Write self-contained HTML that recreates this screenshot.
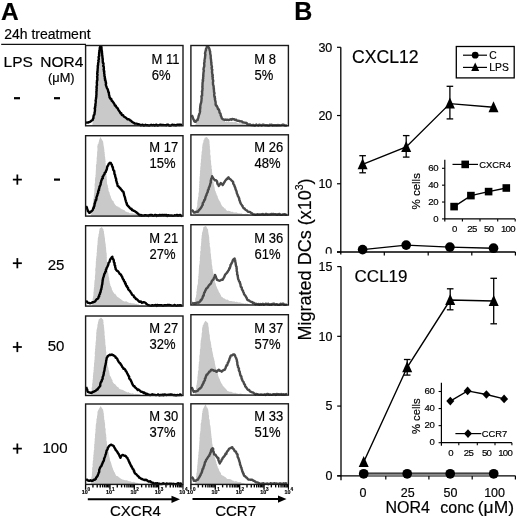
<!DOCTYPE html>
<html><head><meta charset="utf-8"><style>
html,body{margin:0;padding:0;background:#fff;}
svg{display:block;filter:grayscale(1) blur(0.3px);}
text{font-family:"Liberation Sans", sans-serif;stroke:#000;stroke-width:0.18px;}
</style></head><body>
<svg width="520" height="518" viewBox="0 0 520 518">
<rect width="520" height="518" fill="#fff"/>
<text x="1.0" y="19.9" font-size="24.5" text-anchor="start" font-weight="bold" fill="#000" >A</text>
<text x="4.2" y="38.7" font-size="14" text-anchor="start" font-weight="normal" fill="#000" >24h treatment</text>
<line x1="1.2" y1="44.35" x2="86" y2="44.35" stroke="#111" stroke-width="1.2"/>
<text x="3.6" y="66.8" font-size="15.5" text-anchor="start" font-weight="normal" fill="#000" >LPS</text>
<text x="40.2" y="66.8" font-size="15.5" text-anchor="start" font-weight="normal" fill="#000" >NOR4</text>
<text x="48.0" y="82.0" font-size="12.8" text-anchor="start" font-weight="normal" fill="#000" >(&#956;M)</text>
<rect x="14.0" y="97.10000000000001" width="6" height="2.2" fill="#000"/>
<rect x="54.0" y="97.10000000000001" width="6" height="2.2" fill="#000"/>
<rect x="12.850000000000001" y="178.725" width="9.0" height="1.75" fill="#000"/>
<rect x="16.475" y="174.5" width="1.75" height="10.2" fill="#000"/>
<rect x="54.0" y="178.5" width="6" height="2.2" fill="#000"/>
<rect x="12.850000000000001" y="262.325" width="9.0" height="1.75" fill="#000"/>
<rect x="16.475" y="258.09999999999997" width="1.75" height="10.2" fill="#000"/>
<text x="56" y="270" font-size="15" text-anchor="middle" font-weight="normal" fill="#000" >25</text>
<rect x="12.850000000000001" y="346.125" width="9.0" height="1.75" fill="#000"/>
<rect x="16.475" y="341.9" width="1.75" height="10.2" fill="#000"/>
<text x="56" y="351.3" font-size="15" text-anchor="middle" font-weight="normal" fill="#000" >50</text>
<rect x="12.850000000000001" y="447.725" width="9.0" height="1.75" fill="#000"/>
<rect x="16.475" y="443.5" width="1.75" height="10.2" fill="#000"/>
<text x="55" y="453.3" font-size="15" text-anchor="middle" font-weight="normal" fill="#000" >100</text>
<svg x="85.6" y="45.5" width="97.4" height="80.3" viewBox="85.6 45.5 97.4 80.3" overflow="hidden">
<polygon points="92.2,125.8 92.2,125.0 92.5,124.3 92.5,123.0 92.7,122.2 93.0,121.2 93.0,120.6 93.3,119.6 93.2,118.9 93.5,117.6 93.8,117.3 93.8,116.0 94.0,115.4 93.9,114.4 94.2,113.4 94.1,112.0 94.2,111.5 94.5,110.9 94.4,109.9 94.4,109.0 94.6,107.3 94.7,106.8 94.9,106.1 94.6,105.0 95.0,103.9 94.9,103.6 94.9,102.4 95.0,101.8 95.3,100.4 95.1,99.4 95.4,99.0 95.3,97.8 95.6,96.9 95.8,95.9 95.7,95.0 96.0,94.2 95.8,93.1 95.9,92.1 95.9,91.1 95.8,90.1 96.0,89.6 96.0,88.1 96.2,87.9 96.3,87.0 96.4,86.1 96.2,84.7 96.4,83.7 96.5,83.3 96.6,82.1 96.6,81.2 96.4,80.3 96.7,79.6 96.7,78.0 96.7,77.4 96.7,76.8 96.6,75.8 96.6,74.4 96.9,73.6 97.0,72.4 96.7,72.0 96.7,71.0 97.0,70.0 97.3,69.1 97.3,67.7 97.3,67.3 97.4,66.1 97.4,65.7 97.4,63.9 97.9,63.1 97.6,62.2 98.0,61.9 97.7,60.5 97.9,59.4 98.0,58.8 98.2,57.5 98.3,56.4 98.2,56.3 98.4,54.8 98.6,54.0 99.0,53.3 99.4,51.7 99.5,51.4 99.5,50.2 100.2,48.9 100.3,48.0 101.1,48.1 102.2,48.0 102.3,48.6 102.4,49.7 102.5,50.7 102.5,51.5 102.9,52.3 102.8,53.0 103.0,54.2 102.8,55.0 103.0,56.5 103.2,57.0 103.2,57.7 103.3,59.2 103.5,59.8 103.7,60.5 103.6,61.6 103.5,62.1 103.8,63.1 104.0,64.1 104.2,65.2 104.1,65.9 104.3,66.8 104.4,67.4 104.4,68.5 104.4,69.6 104.6,70.6 104.8,71.7 104.8,72.1 104.9,73.5 105.2,74.4 105.1,75.0 105.1,76.4 105.4,76.5 105.6,78.2 105.6,78.9 105.7,79.4 106.0,80.1 106.2,81.5 106.0,82.1 106.4,83.7 106.4,84.7 106.4,85.5 106.7,85.8 106.8,87.0 107.0,88.0 107.5,89.3 107.6,90.0 108.2,90.9 108.7,91.8 108.9,93.0 108.9,93.5 109.5,94.8 109.9,96.0 110.1,96.1 110.3,97.6 110.5,98.4 110.8,99.3 110.9,100.0 111.4,100.8 111.9,101.7 112.4,102.1 113.1,103.5 113.7,104.0 114.4,104.7 114.9,105.3 115.2,107.0 115.8,107.3 116.5,108.1 117.0,108.9 117.6,110.0 118.0,110.5 118.9,111.3 119.5,112.3 120.1,113.0 121.0,114.1 121.4,115.0 122.2,116.1 122.6,116.3 123.4,116.9 123.9,117.9 124.8,118.7 125.3,119.0 126.2,119.3 127.2,120.0 127.6,119.9 128.7,120.3 129.2,121.0 130.3,121.5 131.1,122.0 131.9,122.4 132.8,122.6 133.5,123.5 134.3,123.7 135.2,123.7 135.9,124.5 136.9,124.5 138.0,125.0 138.9,124.9 139.7,124.8 140.9,125.0 140.9,125.8" fill="#c9c9c9"/>
<polyline points="85.9,122.8 86.7,122.5 88.0,122.6 89.0,122.1 89.8,121.9 90.9,121.3 91.5,120.6 92.7,120.0 92.7,119.5 93.5,117.9 93.4,117.4 93.6,115.8 93.9,115.0 94.4,114.7 94.6,113.2 94.5,112.8 94.8,111.8 95.0,110.1 95.0,109.1 94.7,108.5 95.2,107.7 95.0,107.1 95.5,105.5 95.3,105.1 95.6,103.6 95.5,103.6 95.7,102.4 95.8,101.2 95.6,100.4 95.9,99.2 96.1,98.3 96.0,97.8 96.3,97.0 96.3,95.4 96.4,95.2 96.5,94.1 96.4,92.9 96.5,92.0 96.6,90.7 96.7,90.5 96.5,89.5 96.8,87.9 96.5,87.5 96.6,86.2 96.9,85.7 97.0,84.7 96.8,83.1 96.8,82.4 97.0,82.1 96.9,80.8 97.4,79.9 97.3,79.2 97.3,78.1 97.3,77.4 97.1,76.6 97.6,74.8 97.2,74.1 97.2,73.1 97.6,72.1 97.3,72.1 97.6,70.7 97.6,69.6 97.7,68.5 97.8,67.7 97.8,67.0 97.7,65.8 97.9,65.7 98.1,64.8 98.1,63.1 98.4,62.2 98.6,61.5 98.3,60.4 98.4,60.3 98.9,59.0 98.6,57.5 98.6,56.9 99.0,56.3 99.2,55.7 99.0,54.6 99.2,53.8 99.1,53.1 99.4,51.7 99.3,50.8 99.7,50.0 99.7,49.0 99.8,47.8 100.3,46.5 101.3,46.5 101.5,47.4 101.3,48.2 101.6,48.9 101.5,50.5 101.8,50.7 102.0,52.0 101.8,52.9 102.1,53.3 102.1,55.0 102.3,55.5 102.4,56.1 102.4,57.3 102.7,58.6 102.5,58.6 102.8,59.5 102.7,60.5 102.8,62.0 102.9,62.9 103.5,63.3 103.4,64.7 103.2,66.0 103.6,66.3 103.8,66.9 103.9,68.6 103.6,69.6 104.1,70.5 103.9,71.2 104.3,71.7 104.2,72.8 104.1,73.2 104.5,74.6 104.4,75.6 104.5,76.3 104.9,76.9 104.8,78.6 105.3,79.1 105.0,80.0 105.7,81.1 105.7,81.2 105.7,82.3 106.1,83.0 105.8,84.8 106.1,85.3 106.3,86.1 106.8,87.7 107.3,88.7 107.5,88.8 108.0,90.2 108.2,91.4 108.6,92.6 108.9,92.6 108.9,93.7 109.1,95.1 109.5,96.2 109.5,97.3 110.0,97.8 110.4,98.8 111.3,98.9 111.7,100.7 112.0,100.9 112.8,101.7 113.3,102.4 113.7,103.0 114.3,103.9 114.9,105.5 115.8,105.6 115.9,106.4 116.7,107.5 117.4,108.0 117.9,108.7 118.2,109.6 118.9,110.6 119.6,111.6 119.9,111.9 120.5,113.2 121.3,113.3 121.8,115.0 122.6,114.9 123.3,115.5 123.8,116.4 124.4,117.0 125.4,117.3 126.0,117.8 127.1,118.8 127.6,119.3 128.6,119.2 129.4,119.6 130.2,120.5 131.0,120.6 131.9,121.8 133.2,122.6 134.0,122.8 134.8,123.6 135.8,123.6 136.9,123.6 138.0,124.4 138.9,124.2 140.0,124.8 140.7,125.3 141.7,125.1 142.6,124.6 143.8,125.6 144.5,125.4 145.5,124.7 146.5,125.2 147.5,125.1 148.0,125.4 149.1,125.5 149.7,125.3 151.1,124.8 151.6,125.1 152.8,125.2 153.7,124.9 154.7,125.6 155.5,125.0 156.7,124.7 157.4,125.5 158.4,125.4 159.3,125.0 160.3,124.6 161.0,125.1 161.9,125.0 162.9,124.9 163.6,125.0 164.7,125.1 165.8,125.1 166.3,125.3 167.3,124.6 168.2,124.7 169.3,125.5 170.3,125.6 170.8,125.5 172.1,124.8 172.9,124.7 173.7,125.1 174.6,125.0 175.7,125.3 176.3,125.2 177.6,124.6 178.5,124.6 179.2,125.0 179.9,124.6 181.2,124.8 182.0,125.1" fill="none" stroke="#000" stroke-width="2.4" stroke-linejoin="round"/>
</svg>
<rect x="85.6" y="45.5" width="97.4" height="80.3" fill="none" stroke="#1a1a1a" stroke-width="1.4"/>
<text transform="translate(151.60,63.8) scale(1,1.08)" font-size="13" fill="#000">M 11</text>
<text transform="translate(151.70,79.6) scale(1,1.08)" font-size="13" fill="#000">6%</text>
<svg x="85.6" y="135.7" width="97.4" height="80.4" viewBox="85.6 135.7 97.4 80.4" overflow="hidden">
<polygon points="90.9,216.1 90.9,215.5 91.1,214.5 91.2,213.4 91.5,213.1 91.5,211.6 91.6,210.8 91.7,210.5 92.1,208.8 92.2,208.4 92.2,207.2 92.4,206.5 92.6,205.7 92.5,204.9 93.0,204.2 93.0,202.5 92.9,201.7 93.4,200.9 93.3,200.6 93.4,199.3 93.6,198.0 93.8,197.5 93.9,196.9 93.8,195.4 94.0,194.3 94.1,194.1 94.2,192.9 94.4,191.6 94.3,190.9 94.4,189.7 94.6,188.8 94.4,188.5 94.8,187.3 94.6,186.2 94.6,185.6 94.6,184.2 94.8,183.3 95.0,183.0 95.1,181.7 95.0,180.8 94.9,180.1 95.1,178.8 95.1,178.0 95.4,177.0 95.6,176.4 95.4,175.3 95.7,174.4 95.7,173.0 95.7,172.5 95.8,171.6 95.8,170.6 95.9,169.8 95.9,168.6 96.0,168.4 96.0,166.7 95.9,166.2 96.0,164.9 96.1,164.4 96.6,163.5 96.4,162.5 96.5,161.7 96.6,161.2 96.7,159.8 96.7,159.4 96.6,157.9 96.8,157.4 96.9,156.4 97.1,155.4 97.1,154.9 97.0,153.9 97.2,153.0 97.0,152.2 97.3,151.3 97.5,149.8 97.4,148.8 97.5,148.6 97.3,147.2 97.3,146.1 97.6,145.5 97.7,144.3 98.4,144.1 98.4,143.1 98.8,142.1 98.9,141.3 99.2,140.1 99.4,139.6 99.8,138.4 100.1,138.1 100.3,136.9 101.0,137.8 101.1,138.4 101.6,138.9 102.1,140.1 102.8,141.0 103.2,141.7 103.2,142.8 103.4,143.5 103.4,144.3 103.6,145.5 103.8,146.2 103.9,147.1 104.1,148.2 104.2,148.8 104.3,150.2 104.5,150.9 104.2,151.9 104.7,152.1 104.6,153.2 104.9,154.4 104.8,154.9 104.8,155.7 105.1,157.0 105.3,158.3 105.1,159.1 105.5,159.5 105.4,160.6 105.7,162.0 105.3,162.3 105.7,163.5 105.7,164.7 105.9,165.7 105.7,165.9 106.0,166.8 106.0,168.4 106.0,169.1 105.9,169.7 106.2,171.2 106.5,171.4 106.5,172.8 106.3,173.6 106.5,174.5 106.3,175.8 106.7,176.5 106.7,177.8 106.6,178.6 106.9,179.1 106.9,180.1 106.8,181.0 107.0,182.0 107.0,183.4 107.2,184.1 107.6,185.3 107.9,185.8 107.9,186.4 107.9,187.6 108.5,188.4 108.4,189.9 108.6,190.4 108.9,191.7 109.4,192.1 109.6,193.3 109.8,194.0 110.0,195.0 110.6,195.9 111.0,197.2 111.0,198.0 111.5,198.5 111.8,199.4 112.4,200.6 112.9,200.7 113.7,201.5 113.9,202.9 114.5,203.4 115.2,204.7 115.7,205.2 116.4,206.1 117.4,206.4 118.2,206.4 118.8,207.5 119.9,207.6 120.6,208.4 121.4,209.0 122.3,209.3 123.0,209.7 124.2,210.0 125.0,210.7 125.5,211.4 126.3,211.8 127.3,212.3 128.3,212.3 129.1,212.8 130.1,213.4 130.9,212.9 131.9,213.6 132.8,213.2 134.0,213.7 134.8,213.8 135.6,213.5 136.6,213.7 137.9,214.7 138.7,214.4 139.4,214.4 140.3,214.6 141.5,214.9 142.5,215.0 143.0,215.0 144.1,215.1 144.8,215.5 145.9,215.5 145.9,216.1" fill="#c9c9c9"/>
<polyline points="86.0,206.1 86.6,206.9 86.9,207.7 87.1,208.7 87.5,209.5 87.8,210.9 88.4,211.3 88.9,212.5 89.8,212.8 90.8,211.7 91.3,211.4 91.9,210.8 92.7,210.0 93.1,208.9 93.2,208.3 93.8,207.9 94.0,206.5 94.3,206.2 94.6,204.4 94.6,203.6 94.9,203.4 95.2,202.0 95.5,201.3 95.6,200.0 96.2,200.0 96.5,198.1 96.4,197.3 96.8,196.5 97.1,195.8 97.4,195.0 97.6,193.6 98.1,193.1 98.3,192.1 98.1,191.9 98.6,190.1 99.1,190.1 98.9,189.2 99.4,187.8 99.5,186.5 99.8,186.4 100.3,185.2 100.7,184.0 100.6,182.9 101.0,182.6 101.2,181.1 101.6,180.2 101.8,179.4 102.1,178.8 102.8,178.3 102.6,176.7 103.2,176.3 103.5,175.4 104.0,174.7 104.6,174.0 104.7,172.7 105.5,172.2 105.9,171.8 106.1,170.5 106.7,169.7 107.0,168.3 107.1,167.5 107.4,166.3 108.0,165.7 108.5,164.4 109.1,163.4 110.0,162.8 110.8,163.0 111.4,164.4 111.9,164.8 112.0,165.7 112.6,167.2 112.9,167.2 112.9,168.2 113.3,169.9 113.8,170.5 114.2,171.0 114.4,172.9 114.4,173.4 114.6,174.3 115.1,175.0 115.2,176.4 115.7,177.7 115.7,178.2 116.2,179.1 116.1,180.6 116.6,181.4 116.8,182.6 116.7,182.7 117.3,183.7 117.5,185.0 117.7,185.9 118.7,186.6 119.6,187.8 120.5,188.5 120.6,188.9 121.5,189.8 122.5,191.2 123.4,191.7 123.7,193.2 123.8,193.1 124.1,195.0 124.4,195.9 124.8,197.0 124.8,197.0 125.1,198.0 125.3,199.4 125.6,200.1 125.9,201.3 126.4,202.8 126.8,203.6 126.8,204.3 127.3,205.2 128.2,206.1 129.2,207.1 129.7,207.8 130.9,209.0 131.5,208.8 132.0,210.0 133.2,210.4 133.9,210.9 134.8,211.2 135.9,211.9 136.9,212.7 137.4,213.3 138.0,213.6 138.8,214.5 139.8,215.4 141.0,214.9 141.6,215.8 142.5,215.4 143.9,215.7 144.6,215.2 145.5,215.2 146.8,215.5 147.5,215.4 148.4,215.9 149.2,215.1 150.2,215.0 151.3,214.9 151.9,214.9 152.7,215.8 153.6,215.7 154.8,214.9 155.9,214.9 156.7,215.9 157.3,215.3 158.2,215.6 159.3,215.0 159.9,215.0 161.0,215.4 161.7,215.0 162.8,215.0 163.8,215.2 164.9,214.9 165.6,215.3 166.6,214.9 167.2,215.9 168.3,215.2 169.0,215.5 170.4,215.5 171.3,215.6 171.7,215.5 172.9,215.9 173.9,215.6 174.5,215.3 175.8,215.4 176.6,214.9 177.5,214.9 178.1,215.7 179.2,215.1 180.2,214.9 181.2,215.9 182.0,215.4" fill="none" stroke="#000" stroke-width="2.4" stroke-linejoin="round"/>
</svg>
<rect x="85.6" y="135.7" width="97.4" height="80.4" fill="none" stroke="#1a1a1a" stroke-width="1.4"/>
<text transform="translate(149.25,151.8) scale(1,1.08)" font-size="13" fill="#000">M 17</text>
<text transform="translate(149.45,167.6) scale(1,1.08)" font-size="13" fill="#000">15%</text>
<svg x="85.6" y="225.7" width="97.4" height="80.40000000000003" viewBox="85.6 225.7 97.4 80.40000000000003" overflow="hidden">
<polygon points="91.9,306.1 91.9,305.5 92.2,304.7 92.3,304.0 92.2,302.8 92.6,302.0 92.6,300.5 92.6,300.3 92.6,298.7 93.1,297.9 92.9,296.8 93.4,295.9 93.3,295.2 93.6,294.1 93.4,293.3 93.5,291.9 93.8,291.3 93.7,290.5 93.8,289.6 93.9,288.2 93.9,287.8 94.3,286.4 94.1,285.3 94.4,284.6 94.2,284.0 94.5,282.9 94.3,282.2 94.6,281.1 94.5,280.6 94.9,279.4 95.0,278.4 94.8,277.1 95.0,276.5 95.0,276.0 95.2,274.3 95.3,273.3 95.3,272.6 95.4,272.3 95.4,271.2 95.2,270.2 95.3,269.0 95.5,267.8 95.7,266.9 95.7,266.3 95.7,265.0 95.9,264.3 95.7,263.1 95.9,262.6 95.8,261.2 96.2,260.8 96.0,259.6 96.1,258.7 96.3,257.7 96.3,256.8 96.4,256.2 96.7,255.3 96.6,253.8 96.5,253.5 96.7,252.7 97.0,251.3 96.8,250.4 97.0,249.3 96.9,249.0 97.1,248.2 97.1,247.2 97.2,245.6 97.4,244.7 97.6,244.3 97.5,243.5 97.6,242.6 97.6,241.3 97.8,240.1 97.8,239.8 97.8,239.1 97.9,238.0 98.3,236.8 98.5,236.0 98.5,234.9 98.5,234.3 99.0,233.2 99.1,232.3 99.0,231.7 99.4,230.2 99.5,229.5 99.5,228.8 100.4,228.0 101.3,227.4 101.9,226.9 102.2,227.5 102.6,228.5 103.4,229.3 103.5,230.5 104.1,231.7 104.0,232.9 104.1,233.7 104.3,234.1 104.4,235.4 104.5,236.2 104.7,237.2 104.9,237.9 105.0,239.2 105.0,240.1 105.0,240.8 105.2,241.4 105.4,242.9 105.5,243.4 105.8,244.9 105.7,245.4 105.8,246.5 106.0,247.2 106.1,248.3 106.1,249.0 106.2,249.9 106.2,250.6 106.3,251.6 106.4,252.4 106.7,253.3 106.7,254.6 106.8,255.8 106.6,256.2 107.0,257.4 106.7,258.0 106.8,258.9 106.8,259.6 106.9,260.9 107.3,261.9 107.3,262.9 107.2,263.9 107.4,264.6 107.7,265.5 107.6,266.7 107.6,267.1 107.6,268.1 107.6,269.2 107.7,270.4 108.0,271.2 108.0,272.0 108.0,272.6 108.5,274.1 108.5,275.0 108.5,275.4 108.7,276.4 108.8,277.1 109.2,278.0 109.2,279.4 109.2,279.9 109.4,280.7 109.8,282.2 109.6,282.3 109.9,283.6 110.3,284.5 110.3,285.6 111.0,286.2 111.0,286.7 111.7,288.0 111.8,289.1 112.0,289.8 112.6,290.7 112.8,291.3 113.2,292.2 114.0,292.8 114.4,293.9 115.4,293.8 115.8,294.9 116.4,295.4 116.9,296.5 117.6,297.0 118.4,297.5 119.3,297.9 120.3,298.9 120.8,299.1 121.8,299.9 122.8,300.7 123.4,300.9 124.1,301.5 125.0,301.4 126.2,301.3 126.8,301.4 127.8,302.3 128.5,302.5 129.5,302.9 130.5,302.7 131.3,303.2 132.2,303.3 133.2,303.6 133.9,303.2 134.9,303.8 135.7,304.1 136.6,303.7 137.6,304.4 138.4,304.2 139.3,304.9 140.6,305.1 141.4,304.7 142.1,304.8 143.3,305.1 143.9,305.6 145.1,304.9 145.9,305.5 145.9,306.1" fill="#c9c9c9"/>
<polyline points="86.0,301.0 86.9,301.6 87.8,302.8 89.0,302.9 89.8,303.3 90.5,303.1 91.7,302.8 92.5,302.1 93.5,302.2 94.8,301.7 95.5,301.0 96.1,299.8 96.8,299.2 97.7,298.8 98.4,298.0 98.5,296.8 99.2,296.5 99.0,295.8 99.5,294.4 100.0,293.9 100.1,292.7 100.5,292.3 100.8,290.7 100.8,290.1 101.3,289.4 101.3,288.8 101.7,287.2 101.7,286.8 101.9,285.6 102.1,284.7 102.4,283.9 102.3,283.5 102.4,282.7 102.6,281.4 102.6,280.3 102.9,279.9 102.9,279.1 103.2,277.8 103.8,276.4 103.9,275.6 104.0,275.4 104.4,273.8 105.0,273.1 105.2,272.0 105.8,271.6 105.9,269.7 106.5,268.8 106.6,267.9 107.1,267.3 107.7,266.0 108.0,265.4 108.3,264.7 108.5,263.1 109.0,262.5 109.6,261.7 109.9,260.2 110.2,259.5 110.9,258.6 111.7,257.4 112.3,256.7 112.4,257.6 112.9,258.9 113.5,259.6 113.8,260.5 113.8,261.7 114.2,262.7 114.6,263.0 114.5,264.4 114.6,265.0 115.2,265.8 115.1,266.9 115.7,268.5 115.7,269.2 116.6,270.3 117.0,270.9 117.8,271.2 118.6,272.0 118.9,272.5 119.7,273.9 120.3,274.1 121.0,274.9 121.5,275.9 122.1,276.5 122.2,277.4 122.8,278.5 123.0,279.3 123.7,279.7 123.9,280.8 124.4,281.7 125.0,282.1 125.1,283.8 125.7,283.6 126.1,285.5 126.5,286.2 127.1,286.3 127.3,287.5 128.1,287.8 128.2,289.2 129.0,290.1 129.6,290.6 130.2,291.3 130.8,292.3 131.5,293.4 131.8,294.2 132.2,294.7 133.0,295.2 133.6,295.5 134.0,297.0 134.5,297.4 135.4,297.9 135.9,299.0 136.7,299.1 137.3,299.7 138.2,300.6 139.2,301.6 139.8,301.9 140.9,301.5 141.7,302.7 142.7,302.5 143.8,302.1 144.8,302.5 145.5,302.8 146.3,303.9 146.8,304.1 147.6,304.7 148.5,305.2 149.4,305.4 150.3,305.6 151.4,305.7 152.3,305.1 153.2,305.6 153.7,305.4 154.8,305.3 155.8,305.0 156.8,305.9 157.3,304.9 158.4,305.3 159.3,305.3 160.1,305.3 161.1,305.2 162.2,305.5 163.2,305.8 164.1,305.2 164.9,305.4 165.5,305.1 166.4,305.3 167.6,304.9 168.5,305.1 169.1,304.9 170.3,305.1 171.1,305.3 172.1,305.6 173.1,305.6 173.8,305.4 174.7,304.9 175.5,305.5 176.5,305.9 177.7,305.2 178.5,305.5 179.2,305.5 179.9,305.2 181.1,305.5 182.0,305.4" fill="none" stroke="#000" stroke-width="2.4" stroke-linejoin="round"/>
</svg>
<rect x="85.6" y="225.7" width="97.4" height="80.40000000000003" fill="none" stroke="#1a1a1a" stroke-width="1.4"/>
<text transform="translate(149.25,242.8) scale(1,1.08)" font-size="13" fill="#000">M 21</text>
<text transform="translate(149.45,258.5) scale(1,1.08)" font-size="13" fill="#000">27%</text>
<svg x="85.6" y="316.0" width="97.4" height="79.5" viewBox="85.6 316.0 97.4 79.5" overflow="hidden">
<polygon points="90.9,395.5 90.9,395.0 91.0,393.9 90.9,393.3 91.1,392.0 91.3,391.5 91.7,390.4 91.8,389.9 91.6,388.2 91.6,388.0 92.0,387.1 92.2,386.0 92.1,384.5 92.0,384.3 92.4,383.3 92.5,382.3 92.6,381.6 92.5,380.3 92.8,379.4 92.8,378.8 93.1,377.3 92.8,376.4 93.0,375.9 93.1,375.0 93.2,373.9 93.2,373.1 93.4,372.3 93.7,371.1 93.4,370.6 93.8,369.2 93.7,368.7 93.7,367.2 94.0,366.6 94.0,365.8 94.0,364.5 94.0,363.4 94.1,362.7 94.4,362.0 94.3,360.8 94.5,359.9 94.6,359.2 94.6,358.0 94.6,357.4 94.7,356.3 95.0,355.4 94.8,354.6 94.7,353.4 94.8,352.6 94.9,351.6 95.2,350.9 95.0,349.8 95.0,349.2 95.3,348.3 95.3,347.3 95.3,346.4 95.5,344.8 95.8,344.5 95.5,343.4 95.7,342.1 95.8,341.9 95.8,340.8 96.1,339.8 96.1,339.0 96.0,337.7 96.1,336.5 96.2,336.1 96.3,334.7 96.2,334.0 96.2,332.8 96.6,331.8 96.4,330.9 96.6,329.9 96.7,329.4 97.0,328.5 97.2,327.7 97.4,326.5 97.4,325.6 97.5,324.4 97.9,323.7 97.9,322.6 98.3,321.5 98.5,320.4 98.6,319.8 99.2,319.0 100.0,318.5 100.9,317.5 101.6,318.1 102.6,319.3 103.2,319.8 103.4,320.4 103.3,321.3 103.6,322.5 103.4,323.8 103.5,324.0 103.9,325.2 104.0,326.3 103.8,327.1 104.1,327.6 104.2,328.8 104.2,329.7 104.4,330.8 104.4,331.3 104.6,332.3 104.6,333.1 104.5,334.5 104.6,335.4 104.9,336.1 104.9,337.1 104.8,338.4 105.1,339.0 105.2,340.3 105.3,341.0 105.2,341.9 105.4,342.5 105.3,343.3 105.4,344.7 105.6,345.1 105.7,346.7 106.0,346.9 105.9,348.3 105.9,349.0 106.0,349.9 106.0,350.7 106.3,352.2 106.5,352.7 106.2,353.5 106.2,354.8 106.3,355.6 106.7,356.7 106.7,357.6 106.7,358.6 106.8,359.0 106.7,360.6 106.7,361.1 107.0,362.0 107.4,363.2 107.5,363.4 107.4,364.7 107.6,365.4 107.9,366.8 108.3,367.7 108.5,368.6 108.4,369.6 108.7,370.3 109.1,370.8 109.3,372.0 109.4,372.7 109.6,373.4 109.6,374.8 109.9,375.5 110.5,376.4 110.8,376.8 111.2,377.8 111.5,378.8 112.0,379.6 112.5,380.3 112.6,381.7 113.3,382.8 113.7,383.2 114.4,383.9 115.0,384.1 115.7,385.1 116.1,385.5 116.7,386.2 117.5,387.1 118.4,387.3 118.7,387.9 119.5,389.0 120.4,389.3 121.0,389.5 122.0,389.7 123.0,390.0 123.7,390.5 124.6,391.0 125.5,391.6 126.4,391.7 127.2,392.5 128.4,392.1 129.1,392.8 130.1,393.1 131.1,393.5 132.0,393.5 132.7,393.3 133.7,393.7 134.5,394.2 135.5,393.8 136.5,394.1 137.3,394.1 138.3,394.1 139.3,394.4 139.9,394.3 140.9,395.0 141.9,395.0 141.9,395.5" fill="#c9c9c9"/>
<polyline points="86.0,387.0 86.4,387.7 86.9,389.3 87.2,389.4 87.3,390.7 87.8,391.9 89.0,392.3 89.8,392.5 90.5,392.8 91.7,392.8 92.7,392.0 93.5,391.8 94.8,391.2 95.5,390.9 95.9,390.6 97.0,389.4 97.6,389.5 98.0,388.5 98.8,387.7 99.4,387.0 99.7,386.5 100.3,385.8 100.2,384.9 100.5,383.2 100.8,382.3 101.3,381.5 101.6,381.5 101.9,379.8 102.3,379.4 102.7,378.5 102.6,377.3 102.9,376.6 103.5,375.2 103.5,374.3 103.8,374.1 103.8,372.3 104.2,371.7 104.3,370.8 104.6,369.9 104.6,368.8 104.8,367.9 105.0,367.2 105.3,365.4 105.6,364.7 105.7,363.5 106.0,362.7 106.1,362.0 106.1,361.0 106.4,360.1 106.6,358.8 106.8,357.8 107.5,356.9 107.5,356.3 108.2,355.9 109.0,355.3 109.8,354.6 110.8,355.1 111.9,354.4 113.1,355.2 113.6,355.3 114.8,356.3 115.5,356.8 115.7,357.7 116.8,358.3 117.3,358.9 117.7,360.2 118.3,361.2 118.6,361.7 119.6,362.9 120.0,362.9 120.5,364.0 120.9,364.6 121.5,365.3 122.1,366.6 122.4,367.1 123.1,367.7 123.4,368.8 124.4,368.8 125.3,369.8 125.5,370.7 126.2,371.4 126.7,372.2 127.3,373.6 127.7,374.2 128.4,375.6 128.5,375.7 129.2,376.7 129.1,378.0 129.6,379.1 130.2,379.4 130.5,379.7 131.1,380.9 131.2,381.4 131.8,382.3 132.0,383.3 132.6,384.3 133.0,385.2 133.8,386.2 134.5,386.3 135.1,387.5 135.6,387.8 136.4,388.4 136.9,389.0 137.7,390.0 138.4,389.5 139.2,390.1 140.2,390.9 140.9,391.7 141.7,391.9 142.7,391.9 143.6,393.1 144.1,392.4 145.0,393.3 145.9,394.0 146.8,393.6 147.5,394.2 148.3,394.5 149.4,394.8 150.2,395.0 151.3,394.7 152.4,394.3 153.2,394.6 154.4,394.8 155.1,394.9 156.0,395.1 157.4,394.9 158.3,394.4 159.3,395.2 160.0,395.3 161.0,394.8 162.0,395.1 163.0,394.5 163.6,395.2 164.6,394.5 165.8,394.7 166.3,395.0 167.2,394.9 168.3,394.8 169.2,394.9 170.0,394.5 170.9,394.4 171.8,394.7 172.6,394.8 174.0,395.2 174.7,395.0 175.8,395.3 176.6,395.3 177.2,394.9 178.1,395.1 179.3,395.1 180.0,394.4 181.4,395.1 182.0,394.8" fill="none" stroke="#000" stroke-width="2.4" stroke-linejoin="round"/>
</svg>
<rect x="85.6" y="316.0" width="97.4" height="79.5" fill="none" stroke="#1a1a1a" stroke-width="1.4"/>
<text transform="translate(149.25,333.4) scale(1,1.08)" font-size="13" fill="#000">M 27</text>
<text transform="translate(149.45,348.7) scale(1,1.08)" font-size="13" fill="#000">32%</text>
<svg x="85.6" y="404.0" width="97.4" height="80.39999999999998" viewBox="85.6 404.0 97.4 80.39999999999998" overflow="hidden">
<polygon points="90.9,484.4 90.9,484.0 91.0,483.4 90.9,482.0 91.4,481.4 91.1,480.3 91.5,479.4 91.2,479.0 91.3,477.8 91.6,476.8 91.9,475.6 91.8,474.7 92.0,473.8 91.9,473.2 92.0,472.6 92.2,471.0 92.3,470.7 92.1,469.7 92.2,468.3 92.2,467.5 92.6,466.7 92.8,466.2 92.5,464.8 92.5,464.1 92.9,463.1 92.7,462.2 92.8,461.5 93.0,459.9 93.4,459.8 93.1,458.8 93.2,457.6 93.4,456.9 93.3,455.3 93.4,454.7 93.8,454.0 93.5,453.1 93.8,452.0 93.7,450.6 93.9,450.5 94.2,449.2 94.2,448.0 94.0,447.8 94.3,446.1 94.2,445.8 94.2,444.3 94.6,443.4 94.5,442.7 94.6,441.6 94.5,441.2 94.8,440.4 94.6,438.7 95.0,437.9 95.1,437.0 94.9,436.4 95.0,435.4 94.9,434.7 95.3,433.3 95.3,432.7 95.5,431.2 95.6,430.8 95.3,429.7 95.7,428.5 95.7,428.0 95.7,427.0 95.8,425.7 95.7,425.6 95.9,424.0 96.2,422.9 96.4,422.7 96.3,421.7 96.5,420.8 96.4,419.3 96.5,419.2 97.0,417.7 97.0,416.8 97.1,416.0 97.2,415.6 97.4,414.7 97.5,413.4 97.4,412.8 97.6,411.6 98.1,410.4 98.5,409.4 99.1,409.3 99.2,408.1 100.0,407.5 100.3,406.2 101.0,406.6 101.5,407.5 102.1,408.2 102.5,409.1 103.2,409.7 103.1,410.3 103.5,411.7 103.4,412.0 103.6,412.9 104.0,414.0 103.7,415.1 104.0,415.9 104.1,416.5 104.1,417.9 104.1,418.6 104.3,419.8 104.6,420.6 104.6,421.4 104.8,422.3 104.9,423.2 105.1,424.0 105.1,425.0 105.1,425.5 105.1,426.4 105.2,427.9 105.5,428.5 105.7,429.4 105.6,430.7 105.6,431.4 105.7,432.5 105.8,433.2 106.1,434.4 106.3,435.0 106.2,435.8 106.2,437.2 106.6,437.8 106.3,438.9 106.4,439.5 106.4,440.7 106.8,441.2 106.9,442.3 106.9,443.4 107.0,444.3 107.2,445.3 107.3,446.1 107.7,446.8 107.7,447.7 107.8,448.6 108.2,449.7 108.0,450.9 108.3,451.3 108.6,452.1 108.7,453.5 108.8,454.1 109.0,454.9 109.3,455.9 109.3,457.3 109.7,457.6 109.8,458.5 109.9,459.7 110.1,460.5 110.3,461.0 110.9,462.2 111.0,462.8 111.5,464.3 111.5,465.2 111.8,465.3 112.2,466.7 112.3,467.2 112.8,468.3 113.0,469.1 113.4,470.2 114.0,471.1 114.0,471.7 114.8,472.5 115.0,473.6 115.4,473.9 115.7,475.0 116.4,475.9 117.2,476.1 118.2,476.6 119.0,477.5 119.8,477.8 120.5,478.5 121.4,478.9 122.2,479.5 123.4,479.7 124.3,480.1 125.1,480.3 126.3,480.3 126.9,480.2 127.9,480.8 129.0,481.2 130.0,481.2 130.9,481.5 131.7,481.9 132.7,482.0 133.6,481.8 134.4,482.1 135.7,482.7 136.3,482.8 137.2,482.8 138.4,483.4 139.3,483.7 139.8,483.7 140.9,484.0 140.9,484.4" fill="#c9c9c9"/>
<polyline points="86.0,479.9 87.1,479.7 87.8,480.4 88.6,480.8 89.8,480.8 90.5,480.3 91.8,480.8 92.6,480.8 93.9,479.8 94.6,479.9 95.0,479.5 95.9,478.8 96.1,477.6 96.9,476.8 97.5,476.0 97.9,475.3 97.9,474.7 98.4,473.7 98.7,472.7 99.2,472.0 99.2,470.5 99.3,469.6 99.7,468.7 100.0,467.9 100.3,467.4 100.9,466.4 101.3,466.1 101.7,465.4 101.9,464.3 102.4,463.7 102.7,462.6 103.2,461.6 103.7,460.8 104.1,459.5 104.1,458.4 104.5,457.8 104.8,457.1 105.2,455.8 105.3,455.2 106.0,453.8 106.1,452.9 106.3,452.5 106.6,450.6 107.1,450.0 107.6,449.2 107.9,447.7 108.3,447.3 109.0,446.2 110.1,445.2 110.9,444.7 111.8,445.0 112.9,445.5 113.8,446.2 114.1,447.0 114.9,448.4 115.5,449.4 115.7,450.0 116.2,450.4 116.9,451.3 117.7,452.5 117.9,453.2 118.6,453.9 119.3,455.3 119.6,456.1 120.2,457.3 120.5,457.8 120.9,456.7 121.6,455.6 122.5,454.9 123.4,455.2 124.3,455.7 125.3,455.8 126.0,456.2 126.6,457.5 127.3,457.8 127.8,459.0 128.5,460.2 128.7,461.1 129.2,461.6 129.4,462.8 129.9,463.1 130.4,464.6 130.8,465.2 131.1,466.2 131.4,466.1 132.0,467.4 132.2,467.8 132.7,468.9 133.5,469.5 133.9,471.1 134.2,471.0 134.5,472.7 135.0,473.2 135.8,474.1 136.6,474.6 137.2,475.4 137.8,476.0 138.8,476.7 139.1,477.6 140.1,477.9 140.9,478.7 141.7,478.9 142.6,479.4 143.6,479.6 144.6,480.1 145.5,479.8 146.6,480.0 147.5,480.8 148.6,481.6 149.3,481.5 150.3,481.3 151.4,482.3 152.4,482.7 153.0,482.7 154.0,483.3 155.0,483.7 155.7,483.3 156.9,483.4 157.5,483.2 158.7,484.0 159.4,483.7 160.3,484.1 161.5,484.0 162.0,484.1 163.2,483.3 164.0,483.7 164.8,483.9 165.8,484.0 167.0,483.4 167.5,484.1 168.2,483.9 169.3,483.7 170.2,483.8 171.1,483.6 172.3,484.1 173.1,483.8 173.9,483.9 174.9,484.1 175.7,484.2 176.6,483.9 177.3,483.7 178.4,483.2 179.1,484.2 180.1,483.4 181.2,483.9 182.0,483.7" fill="none" stroke="#000" stroke-width="2.4" stroke-linejoin="round"/>
</svg>
<rect x="85.6" y="404.0" width="97.4" height="80.39999999999998" fill="none" stroke="#1a1a1a" stroke-width="1.4"/>
<text transform="translate(149.25,420.9) scale(1,1.08)" font-size="13" fill="#000">M 30</text>
<text transform="translate(149.45,436.6) scale(1,1.08)" font-size="13" fill="#000">37%</text>
<svg x="190.9" y="45.5" width="97.49999999999997" height="80.3" viewBox="190.9 45.5 97.49999999999997 80.3" overflow="hidden">
<polygon points="195.2,125.8 195.2,125.0 195.5,124.3 196.2,122.8 196.5,122.0 196.9,121.0 197.3,120.3 197.4,118.6 198.0,117.9 198.3,116.6 198.5,116.2 198.8,115.0 198.8,114.5 199.3,112.7 199.0,112.3 199.5,111.2 199.4,110.3 199.4,109.2 199.7,108.5 199.8,107.3 199.9,106.6 200.1,105.3 200.4,104.8 200.5,103.6 200.8,103.3 200.7,102.0 200.6,100.9 200.9,100.4 201.1,99.2 201.1,98.6 200.9,97.6 201.3,96.9 201.2,95.8 201.0,94.6 201.4,93.8 201.2,93.0 201.5,92.3 201.4,91.1 201.6,90.6 201.6,89.3 201.7,88.1 201.6,87.8 202.1,86.8 201.9,85.5 202.0,85.3 202.2,84.0 202.3,82.9 202.2,82.6 202.3,81.3 202.2,80.4 202.6,79.1 202.6,78.9 202.7,77.9 202.7,76.8 202.7,75.8 202.7,75.0 202.6,74.4 202.9,72.9 202.9,72.2 203.0,71.2 203.1,70.5 203.2,69.5 203.1,68.4 203.2,67.8 203.6,67.1 203.7,66.2 203.5,65.3 203.8,63.7 203.6,62.7 204.0,62.0 203.8,61.4 204.0,60.0 204.0,59.5 204.0,58.4 204.4,57.6 204.3,56.7 204.2,55.7 204.5,54.6 204.6,54.0 204.8,53.4 205.4,51.9 205.8,51.5 205.9,49.9 206.4,49.6 206.9,48.5 207.9,48.9 209.2,49.0 209.7,50.0 209.8,51.4 210.5,52.0 210.6,53.1 211.1,54.0 211.1,55.0 211.2,55.9 211.2,56.5 211.7,58.0 211.5,58.8 211.6,59.8 211.8,60.3 211.7,60.8 212.1,61.7 212.1,63.5 212.1,63.7 212.4,65.3 212.4,65.8 212.3,66.5 212.3,67.7 212.5,68.2 212.5,69.5 212.6,70.3 212.7,71.5 213.1,71.7 213.0,73.0 212.9,73.8 213.4,75.1 213.2,75.5 213.4,77.0 213.6,77.4 213.7,78.6 213.6,79.8 213.5,80.5 213.6,80.9 214.0,81.9 214.0,83.1 214.1,83.8 214.0,84.7 214.3,85.9 214.4,87.0 214.2,87.7 214.2,88.1 214.3,89.8 214.7,90.6 214.6,91.4 214.9,92.1 214.8,92.8 214.9,94.0 214.8,94.7 215.3,95.9 215.5,96.7 215.3,97.9 215.7,98.1 215.8,99.0 215.7,100.6 215.8,101.0 216.3,102.0 216.1,102.7 216.3,104.1 216.3,105.2 216.6,106.1 217.0,106.4 216.9,107.5 217.3,108.3 217.8,109.2 218.4,109.5 219.4,110.5 219.7,111.5 220.1,112.4 220.3,113.0 220.9,114.8 221.2,114.9 221.2,116.3 221.8,117.2 222.0,118.3 222.2,119.1 222.6,120.0 223.5,120.4 224.3,121.1 225.5,122.0 226.6,122.0 227.4,122.1 228.5,121.9 229.1,121.8 230.0,122.3 231.2,121.8 231.9,122.0 232.9,122.0 233.8,122.3 234.6,121.9 235.5,122.1 236.5,122.3 237.2,123.0 238.1,123.3 239.1,123.5 239.9,123.3 240.9,123.5 241.9,123.3 242.9,123.5 243.8,124.3 244.7,123.9 245.3,124.2 246.5,124.1 247.4,124.1 248.4,124.2 249.0,125.1 250.1,125.2 250.9,125.0 250.9,125.8" fill="#c9c9c9"/>
<polyline points="191.8,115.2 192.2,115.8 192.8,117.5 192.9,118.0 193.4,119.2 193.7,119.6 194.2,121.1 194.8,121.9 195.6,121.8 196.5,120.3 197.7,120.0 197.7,119.3 198.2,118.0 198.4,117.2 198.7,115.8 199.0,114.9 199.1,114.5 199.6,113.2 199.8,112.5 200.1,111.3 199.9,110.4 200.1,109.8 200.0,108.7 200.4,107.7 200.2,107.2 200.3,106.1 200.5,104.6 200.7,103.8 200.8,103.6 201.2,102.3 201.3,101.6 201.4,101.1 201.5,99.8 201.5,99.3 201.7,98.2 201.4,96.6 201.5,96.0 202.1,95.7 202.1,94.0 202.1,93.8 202.2,92.9 201.9,91.3 202.3,91.1 202.4,89.8 202.5,88.6 202.6,88.5 202.3,86.7 202.5,86.5 202.5,84.9 202.5,84.9 202.5,84.1 202.6,82.4 202.6,82.3 203.1,80.7 202.7,80.2 203.2,78.6 203.2,78.6 203.1,77.4 203.4,76.1 203.2,75.7 203.4,74.6 203.3,74.2 203.5,72.8 203.5,72.1 203.9,70.9 203.5,69.7 203.6,68.7 203.7,68.0 203.9,67.2 204.2,66.6 204.3,65.3 204.3,64.6 204.1,63.7 204.3,62.9 204.6,61.5 204.5,60.8 204.5,59.5 204.5,59.6 205.0,58.1 205.0,57.0 205.1,56.8 205.2,55.3 205.4,54.9 205.0,53.4 205.3,52.4 205.4,51.7 205.7,50.4 206.0,50.3 205.9,49.2 206.3,48.3 206.8,47.7 206.9,46.3 208.3,46.9 208.8,47.7 209.2,48.4 209.6,49.7 209.7,50.5 210.2,51.7 210.1,52.9 210.2,53.2 210.3,54.1 210.7,55.5 210.7,56.7 210.7,56.7 210.7,58.1 211.0,59.5 211.0,59.6 211.2,61.3 211.1,62.2 211.5,62.8 211.4,63.2 211.3,64.0 211.6,65.6 211.9,66.4 212.0,67.1 211.6,67.7 211.8,69.1 212.3,69.8 212.1,70.9 212.0,72.1 212.2,72.8 212.2,74.0 212.7,74.9 212.8,75.3 212.3,76.2 212.9,77.3 212.6,77.9 212.7,79.1 213.2,80.5 213.2,81.3 212.9,82.2 213.0,82.9 213.0,84.2 213.1,84.8 213.5,85.7 213.6,86.4 213.7,87.9 213.7,88.9 213.9,88.8 213.9,89.7 214.0,90.9 214.0,92.0 214.3,92.4 214.5,93.3 214.2,94.2 214.3,96.1 214.9,97.0 214.6,97.6 215.1,98.5 214.9,99.7 215.3,100.3 215.2,100.9 215.6,101.9 215.6,103.3 215.7,104.1 215.6,104.6 216.0,105.5 216.7,105.7 217.2,106.8 217.7,108.0 218.0,109.1 218.8,109.4 218.9,109.9 219.3,110.6 219.5,112.3 219.7,112.9 220.5,113.6 220.7,114.9 220.6,115.0 221.3,116.7 221.6,117.4 221.7,118.0 222.7,119.2 223.8,119.6 224.6,120.0 225.8,119.5 226.7,120.1 227.3,119.7 228.5,120.0 229.6,119.8 230.4,119.3 231.4,119.7 232.3,119.0 233.5,119.4 234.3,119.2 235.0,120.0 236.3,119.8 236.9,120.6 238.0,120.9 238.9,120.8 239.7,121.4 241.1,121.3 242.0,121.5 242.7,122.4 243.8,122.5 244.4,122.6 245.3,122.8 246.6,123.0 247.3,124.1 247.9,124.3 248.8,124.5 249.8,124.4 250.9,125.0 251.5,125.1 252.3,125.2 253.2,124.9 254.5,125.6 255.0,125.6 256.2,124.6 256.8,125.0 258.1,125.5 258.7,125.0 259.9,124.8 260.4,125.0 261.6,125.5 262.6,124.6 263.2,124.7 264.3,125.0 265.4,125.2 266.2,125.3 267.0,125.1 267.7,125.5 269.0,125.5 269.9,124.7 270.4,125.0 271.7,124.8 272.7,125.5 273.5,125.1 274.1,125.4 275.0,125.1 276.2,125.2 276.9,125.5 277.8,125.0 278.8,125.3 279.5,125.3 280.6,125.4 281.5,125.2 282.7,124.6 283.5,125.1 284.2,124.9 285.0,125.5 285.9,125.6 287.0,125.1" fill="none" stroke="#4a4a4a" stroke-width="2.4" stroke-linejoin="round"/>
</svg>
<rect x="190.9" y="45.5" width="97.49999999999997" height="80.3" fill="none" stroke="#1a1a1a" stroke-width="1.4"/>
<text transform="translate(254.35,63.8) scale(1,1.08)" font-size="13" fill="#000">M 8</text>
<text transform="translate(254.55,79.6) scale(1,1.08)" font-size="13" fill="#000">5%</text>
<svg x="190.9" y="134.8" width="97.49999999999997" height="80.29999999999998" viewBox="190.9 134.8 97.49999999999997 80.29999999999998" overflow="hidden">
<polygon points="195.0,215.1 195.0,214.5 195.2,213.6 195.7,212.6 195.7,211.8 195.8,210.8 196.2,210.1 196.2,208.7 196.5,208.2 196.9,207.0 197.1,205.7 197.3,205.6 197.3,204.4 197.2,203.0 197.5,202.1 197.4,201.4 197.5,200.7 197.8,200.1 197.9,199.0 198.0,198.1 198.1,196.9 198.5,196.6 198.5,195.5 198.4,194.2 198.5,193.1 198.8,192.5 198.8,191.7 199.0,190.7 199.1,190.2 198.8,188.7 199.2,188.1 199.3,187.1 199.0,186.4 199.3,185.2 199.1,184.3 199.5,183.8 199.2,182.4 199.3,181.4 199.6,180.6 199.6,179.9 199.5,179.3 199.5,178.3 199.6,177.2 199.7,176.1 200.1,175.7 199.8,174.9 199.9,173.5 200.2,172.9 199.9,172.3 200.0,170.7 200.3,169.9 200.2,168.7 200.2,168.3 200.3,167.4 200.4,166.4 200.7,165.5 200.6,164.9 200.5,163.4 200.7,162.8 201.0,162.2 200.8,160.7 201.1,160.5 200.9,159.5 201.3,158.3 201.2,157.0 201.2,156.8 201.3,155.7 201.4,154.9 201.7,153.5 201.6,152.9 201.6,151.6 202.0,151.2 202.1,149.8 202.3,148.8 202.0,148.0 202.3,146.9 202.3,146.2 202.5,145.1 202.5,144.9 202.7,143.6 203.2,142.8 203.4,141.7 203.5,140.3 203.7,140.1 204.4,139.2 204.6,137.8 205.5,137.5 206.9,136.9 207.5,137.8 208.0,138.8 208.4,139.1 209.2,139.8 209.4,141.1 209.5,141.8 209.6,142.9 209.4,143.6 209.8,144.7 209.6,145.6 209.9,146.3 209.9,147.1 209.9,148.2 209.8,149.1 210.3,150.3 210.2,150.7 210.3,151.8 210.2,153.0 210.2,153.8 210.2,154.6 210.5,155.2 210.7,156.4 210.7,157.7 210.6,157.8 210.7,159.3 210.7,159.7 211.1,161.1 211.0,162.2 211.1,162.8 211.1,163.9 211.2,164.6 211.5,165.9 211.7,166.4 211.6,167.2 211.5,168.3 212.0,169.5 212.0,170.5 211.9,170.7 212.1,171.8 212.1,172.8 212.4,173.8 212.3,175.0 212.7,175.6 212.4,176.1 212.9,177.0 212.9,178.4 212.8,179.5 213.0,180.2 213.0,180.8 213.4,181.7 213.7,182.8 213.6,183.6 214.0,185.0 214.2,186.1 214.5,187.3 214.6,187.6 214.7,188.6 214.9,189.8 215.0,190.6 215.6,191.2 215.8,192.2 216.3,193.2 216.6,194.3 216.8,195.2 217.3,195.4 217.7,196.8 217.8,197.5 218.1,198.3 218.7,199.6 219.0,200.1 219.7,201.2 220.2,201.7 220.5,202.4 220.9,203.8 221.3,204.5 221.7,205.2 222.3,206.3 223.3,207.1 223.9,207.6 224.5,208.4 225.4,208.6 225.8,209.4 226.7,210.4 227.4,210.9 228.4,210.7 229.5,210.9 230.4,211.2 231.2,211.9 232.1,211.5 233.2,212.2 234.3,212.4 235.4,212.4 236.3,212.2 237.1,212.8 237.9,213.0 238.8,213.3 239.9,213.2 240.9,213.4 241.6,213.3 242.7,213.9 243.3,214.0 244.6,213.9 245.3,213.7 246.2,214.1 247.1,213.8 248.2,214.4 248.9,214.5 248.9,215.1" fill="#c9c9c9"/>
<polyline points="191.8,210.0 192.6,210.5 193.4,211.7 193.8,212.5 194.7,212.5 195.6,211.9 196.7,211.8 197.7,211.9 198.4,211.0 198.9,210.1 199.4,209.7 200.5,208.5 201.0,207.7 201.5,207.1 202.0,205.9 202.2,205.3 202.8,204.8 202.7,203.2 203.3,202.4 203.5,202.4 204.2,200.5 204.1,200.3 204.9,199.7 205.2,198.6 205.4,197.5 205.7,196.6 206.2,195.4 206.5,195.2 206.5,194.4 206.8,193.7 207.5,192.3 207.7,192.0 207.9,190.3 208.3,189.8 208.7,189.3 208.7,188.2 209.2,187.1 209.6,186.4 209.9,185.5 210.2,184.0 210.7,182.6 210.9,182.4 210.7,181.2 211.0,179.7 211.1,179.0 211.8,177.8 211.9,177.7 212.1,176.3 212.7,177.5 213.4,178.5 214.0,179.2 215.0,180.4 215.9,180.2 216.9,181.1 217.1,181.8 217.4,183.5 217.8,184.4 218.6,185.0 218.8,186.0 219.1,184.9 220.0,184.4 220.5,183.3 220.8,183.0 221.2,183.5 222.0,184.0 222.7,185.0 223.4,184.1 224.0,182.8 224.6,182.0 225.2,180.8 225.9,180.0 226.5,179.2 227.2,179.1 227.7,178.0 228.5,177.3 229.2,178.6 230.4,179.2 231.4,180.3 232.3,181.1 232.7,181.5 233.2,182.2 233.2,183.6 234.0,184.7 234.3,185.1 234.5,186.2 234.7,186.5 235.2,187.8 235.4,188.3 235.6,189.4 236.3,190.8 236.6,191.7 236.8,193.1 237.1,193.6 237.3,194.2 237.6,194.8 237.8,195.9 238.5,196.7 238.7,197.6 239.2,198.4 239.3,199.9 239.8,200.9 240.0,201.3 240.1,202.1 240.7,203.4 241.1,204.1 241.7,204.9 242.2,205.8 242.7,206.2 242.9,207.1 243.7,208.3 244.5,208.5 245.3,209.6 245.8,210.0 246.7,210.4 247.7,211.4 248.5,211.9 249.6,211.9 250.2,212.1 251.3,213.1 251.8,213.2 252.8,214.2 253.5,214.4 254.4,214.4 255.4,214.8 256.6,214.5 257.2,214.3 258.2,214.5 259.2,214.4 260.0,214.5 261.1,214.4 262.2,214.3 262.8,213.9 263.6,214.6 265.0,214.6 265.5,213.9 266.6,213.9 267.3,214.5 268.3,214.4 269.6,214.4 270.3,214.4 271.5,214.0 272.3,214.1 273.2,213.9 273.8,214.1 275.1,214.1 276.0,214.2 277.0,214.8 277.9,214.1 278.4,214.4 279.5,213.9 280.6,214.8 281.6,214.9 282.4,214.4 283.6,214.3 284.4,214.2 285.4,214.5 286.3,214.8 287.0,214.4" fill="none" stroke="#4a4a4a" stroke-width="2.4" stroke-linejoin="round"/>
</svg>
<rect x="190.9" y="134.8" width="97.49999999999997" height="80.29999999999998" fill="none" stroke="#1a1a1a" stroke-width="1.4"/>
<text transform="translate(254.35,151.8) scale(1,1.08)" font-size="13" fill="#000">M 26</text>
<text transform="translate(254.55,167.6) scale(1,1.08)" font-size="13" fill="#000">48%</text>
<svg x="190.9" y="224.7" width="97.49999999999997" height="80.30000000000001" viewBox="190.9 224.7 97.49999999999997 80.30000000000001" overflow="hidden">
<polygon points="194.0,305.0 194.0,304.5 194.1,303.7 194.5,302.6 194.6,302.0 195.1,300.8 195.2,299.6 195.2,298.8 195.7,297.5 195.9,297.0 196.1,295.9 196.0,294.8 196.5,294.5 196.5,293.5 196.3,292.3 196.6,291.3 196.9,290.6 196.7,290.1 196.8,289.3 197.1,288.0 197.1,287.1 197.2,285.8 197.6,285.1 197.7,284.1 197.9,283.9 197.9,282.8 197.9,281.7 198.0,281.0 197.9,279.8 198.3,278.7 198.4,278.4 198.2,277.0 198.3,276.1 198.7,275.1 198.3,273.9 198.7,273.8 198.7,272.5 198.8,271.8 198.7,270.7 198.9,269.8 198.8,268.5 199.0,268.2 199.0,267.0 199.1,265.6 199.1,265.4 199.5,264.0 199.5,263.4 199.7,262.7 199.5,261.8 199.9,260.5 199.9,259.5 199.8,258.6 199.8,257.4 200.1,256.4 199.8,256.1 200.2,254.9 200.3,253.6 200.1,252.9 200.3,251.8 200.2,251.1 200.7,250.7 200.7,249.3 200.5,248.8 200.7,247.7 200.6,246.3 201.0,245.9 201.1,244.8 201.0,243.9 201.2,242.7 201.2,241.8 201.4,240.6 201.4,240.5 201.2,239.3 201.5,238.6 201.6,237.1 201.6,236.8 201.7,235.5 202.1,234.2 201.9,233.2 202.1,232.6 202.4,232.0 202.8,230.4 203.0,229.6 203.2,228.6 203.2,227.6 203.6,226.9 204.6,226.6 205.8,226.0 206.4,226.5 207.1,228.2 207.7,229.1 208.2,229.8 208.1,230.7 208.2,231.8 208.4,232.7 208.5,233.6 208.6,233.9 208.7,235.1 209.1,236.0 209.0,237.1 209.3,237.6 209.2,238.9 209.4,240.2 209.3,240.8 209.5,241.6 209.4,242.8 209.9,243.2 209.7,244.7 209.7,244.8 209.8,246.4 210.1,247.0 210.3,247.9 210.3,248.4 210.5,249.7 210.5,250.6 210.5,251.3 210.5,252.5 210.7,253.6 211.0,254.6 210.9,255.0 211.0,256.2 211.2,257.5 211.1,258.0 211.3,259.1 211.6,260.1 211.6,261.0 211.7,262.0 211.8,262.8 211.7,263.9 211.9,264.6 212.2,265.8 212.1,266.3 212.5,266.8 212.3,267.9 212.5,268.7 212.8,269.5 212.8,271.2 213.2,271.7 213.1,273.1 213.5,273.3 213.5,274.6 213.8,275.1 214.1,276.1 214.0,277.5 214.1,278.2 214.3,279.1 214.5,279.8 214.9,280.8 214.9,281.7 215.2,282.7 215.4,283.1 215.8,284.1 216.0,285.5 216.3,286.3 217.0,287.0 216.9,287.7 217.3,288.6 217.8,289.4 218.3,290.0 218.4,291.1 218.9,291.8 219.5,293.1 219.9,293.3 220.5,294.8 220.8,294.9 221.1,296.1 221.7,297.0 222.6,297.2 223.5,298.2 224.5,298.6 224.9,298.8 225.8,299.5 226.9,299.8 227.5,299.6 228.7,300.6 229.4,300.9 230.4,301.0 231.5,301.1 232.2,301.2 233.1,301.6 234.4,301.3 235.0,301.9 236.2,301.7 237.0,301.8 237.8,302.3 239.1,302.6 239.8,302.3 240.9,302.8 242.0,303.0 242.7,303.3 243.7,303.3 244.3,303.7 245.3,303.2 246.3,303.8 247.3,303.6 248.3,304.0 248.9,304.5 250.1,304.7 250.9,304.5 250.9,305.0" fill="#c9c9c9"/>
<polyline points="192.0,302.8 192.7,303.0 193.8,303.5 194.9,303.1 195.8,303.2 197.0,302.6 197.9,302.5 198.7,302.7 199.6,301.9 200.3,301.2 200.9,299.8 201.3,300.0 202.1,298.7 202.5,298.0 202.7,297.0 203.1,295.9 203.7,295.6 203.8,294.2 204.0,293.6 204.2,292.7 204.7,292.3 205.3,290.6 205.4,290.3 205.8,289.9 206.3,288.5 207.2,288.1 207.6,287.5 208.3,286.5 209.0,285.2 209.6,284.8 210.0,284.3 210.7,283.8 211.2,282.7 211.7,281.4 212.3,280.4 213.1,279.8 213.6,279.2 213.8,278.1 214.4,277.3 214.8,276.1 215.0,275.0 215.5,275.8 215.8,276.7 216.1,277.7 216.5,278.3 216.9,279.8 217.8,280.1 219.1,280.6 219.8,280.7 220.6,280.3 221.9,279.6 222.7,279.8 223.4,278.3 223.7,277.9 224.4,276.7 224.6,275.9 225.1,274.8 225.6,274.1 226.4,273.3 226.7,273.2 227.5,272.0 227.7,271.7 228.2,270.7 228.9,270.1 229.3,268.2 229.7,268.4 230.1,267.1 230.4,266.3 230.5,264.8 231.0,264.6 231.4,263.5 232.1,262.5 232.4,261.8 232.7,260.5 233.8,259.0 234.6,258.6 234.9,259.6 235.2,260.3 235.0,261.0 235.4,262.1 235.7,263.5 235.7,264.2 235.8,264.9 236.2,266.3 236.6,266.9 236.5,268.3 236.8,268.8 236.7,269.7 236.7,271.0 237.1,271.9 237.2,273.1 237.1,274.4 237.3,274.8 237.8,275.3 237.7,276.3 238.0,277.8 238.1,278.9 238.8,280.2 239.0,281.1 239.3,281.7 239.9,282.1 240.0,283.6 240.5,284.3 240.6,286.0 240.9,287.0 241.4,287.1 241.8,287.9 241.9,289.4 242.4,290.0 243.0,290.8 243.0,291.6 243.7,292.6 244.0,294.0 244.5,294.7 244.8,295.2 245.2,295.5 245.8,296.4 246.4,297.7 246.8,298.1 247.2,299.6 247.7,300.0 248.7,300.3 249.6,301.0 250.7,301.6 251.5,301.9 252.1,301.9 252.9,303.2 253.8,302.8 254.7,303.8 255.4,304.3 256.2,303.8 257.4,304.3 258.5,304.0 259.1,304.7 260.2,304.0 260.9,304.5 262.0,304.3 262.9,303.8 263.8,304.8 264.8,304.2 265.6,303.8 266.8,303.9 267.5,304.3 268.4,303.8 269.2,304.7 270.6,304.3 271.5,304.7 272.3,304.0 273.0,303.8 274.2,303.8 275.2,304.5 276.1,304.3 277.0,304.2 277.6,304.7 278.4,304.6 279.6,304.7 280.7,303.8 281.4,304.3 282.4,303.8 283.5,303.8 284.0,304.7 285.2,304.7 286.0,304.8 287.0,304.3" fill="none" stroke="#4a4a4a" stroke-width="2.4" stroke-linejoin="round"/>
</svg>
<rect x="190.9" y="224.7" width="97.49999999999997" height="80.30000000000001" fill="none" stroke="#1a1a1a" stroke-width="1.4"/>
<text transform="translate(254.35,242.8) scale(1,1.08)" font-size="13" fill="#000">M 36</text>
<text transform="translate(254.55,258.5) scale(1,1.08)" font-size="13" fill="#000">61%</text>
<svg x="190.9" y="314.7" width="97.49999999999997" height="80.40000000000003" viewBox="190.9 314.7 97.49999999999997 80.40000000000003" overflow="hidden">
<polygon points="195.0,395.1 195.0,394.5 194.9,393.2 195.3,392.8 195.3,391.3 195.5,391.0 195.6,390.0 196.0,388.5 196.1,387.9 196.2,387.4 196.2,385.6 196.8,385.0 196.6,384.0 196.9,383.2 196.9,382.7 197.0,381.1 197.2,380.5 197.5,379.8 197.3,378.4 197.6,378.2 197.3,377.0 197.8,376.0 197.6,375.2 197.9,373.8 198.0,372.9 197.8,372.1 198.0,371.2 198.2,370.7 198.5,369.9 198.6,368.8 198.4,367.4 198.6,366.8 198.7,365.5 198.6,365.3 198.8,364.0 198.9,363.3 198.8,362.1 199.2,361.4 199.4,360.0 199.2,359.7 199.3,358.7 199.4,357.2 199.3,357.1 199.4,355.4 199.6,355.0 199.9,353.8 199.8,353.2 199.8,351.9 200.0,351.2 199.8,349.8 200.0,349.5 200.3,348.8 200.4,347.2 200.5,346.9 200.4,345.1 200.5,344.4 200.5,343.3 200.7,342.8 200.6,342.2 200.7,341.1 200.9,339.8 201.3,339.0 201.1,338.2 201.4,337.4 201.6,336.3 201.6,335.7 201.6,334.8 201.7,333.4 201.7,333.0 202.1,332.3 202.2,331.0 202.0,330.4 202.1,329.1 202.2,328.1 202.4,327.3 202.7,326.4 202.7,325.5 203.0,325.0 203.7,324.2 203.8,323.2 204.7,322.1 204.8,321.8 205.4,320.7 206.0,321.3 206.9,322.0 207.4,322.6 208.2,323.6 208.2,324.7 208.4,325.7 208.3,326.1 208.7,327.2 208.8,328.5 208.8,328.7 208.8,329.9 209.0,330.8 209.0,331.3 209.3,332.9 209.3,333.9 209.6,334.4 209.8,335.1 209.8,336.6 209.9,337.0 209.8,338.2 210.1,339.0 210.1,339.8 210.5,341.2 210.7,341.7 210.9,342.5 210.9,343.7 211.1,344.2 211.3,345.6 211.3,346.4 211.4,347.6 211.9,347.9 212.2,349.2 211.9,349.6 212.3,351.2 212.3,351.3 212.6,352.2 212.8,353.5 213.0,354.4 213.2,355.0 213.2,356.5 213.6,357.1 213.8,358.1 214.1,359.2 214.3,359.6 214.2,360.3 214.7,361.1 214.8,362.8 214.9,363.2 215.1,364.6 215.4,365.4 215.3,366.2 215.7,366.8 215.9,367.8 216.3,368.9 216.6,369.8 216.9,370.4 217.0,371.6 217.2,371.9 217.5,373.4 217.9,373.6 218.0,374.6 218.2,376.1 218.5,376.5 218.8,377.5 219.1,378.3 219.7,379.1 219.9,379.8 220.4,381.3 220.8,382.0 221.2,382.9 221.7,383.7 222.1,384.0 222.6,385.2 223.0,386.2 223.8,386.6 224.3,387.5 225.0,387.7 225.6,388.7 226.4,389.6 226.9,389.9 227.4,391.0 228.4,391.3 229.5,391.8 230.3,391.8 231.3,391.8 232.2,392.5 233.1,392.5 234.2,393.2 234.9,392.6 236.0,392.9 236.9,393.5 238.0,393.6 238.7,394.0 239.8,393.5 240.5,393.6 241.4,393.7 242.5,394.0 243.2,394.6 244.2,394.2 245.0,394.5 245.9,394.5 245.9,395.1" fill="#c9c9c9"/>
<polyline points="191.8,387.0 192.1,388.3 192.4,388.7 192.9,390.4 193.3,391.0 193.8,391.9 194.6,391.3 195.9,391.5 196.8,391.1 197.7,390.9 198.4,389.8 199.0,389.0 199.7,388.7 200.6,388.0 201.1,387.5 201.6,386.7 202.2,385.1 202.7,384.8 203.0,383.5 203.5,383.2 203.6,381.9 203.9,381.8 204.4,380.9 205.0,379.9 204.9,378.5 205.6,378.1 205.6,377.7 205.8,376.8 206.3,375.5 206.6,374.7 207.4,374.5 208.0,373.3 208.8,372.6 209.2,371.7 210.3,371.4 210.9,370.0 212.1,369.8 213.0,370.1 214.0,370.7 215.1,370.6 216.2,371.7 216.9,371.7 217.9,370.5 218.8,369.8 219.9,370.7 220.9,370.9 221.7,371.7 222.8,370.7 223.6,370.0 224.6,369.8 224.9,369.5 225.7,367.8 225.9,366.8 226.2,366.4 226.5,365.2 227.2,365.3 227.5,364.0 227.7,363.0 228.3,362.5 228.6,361.2 229.0,360.9 229.3,359.9 229.3,359.4 229.8,358.0 230.2,357.5 230.4,356.3 231.2,355.4 232.3,355.3 233.2,354.4 234.2,354.4 234.8,355.0 235.3,356.4 235.8,357.6 236.2,358.2 236.4,358.8 236.9,360.3 236.9,361.5 237.3,362.2 237.3,362.8 237.3,363.5 237.5,365.2 238.0,366.0 238.0,367.2 238.4,367.6 239.0,368.7 238.8,370.0 239.3,371.2 239.7,371.6 239.8,372.3 240.0,373.6 240.2,374.4 240.5,375.7 241.1,376.0 241.5,376.9 241.4,377.6 241.7,379.0 242.1,379.1 242.3,380.4 242.9,381.3 243.5,381.8 243.9,383.3 243.9,383.5 244.8,384.8 245.0,384.8 245.2,386.4 245.8,387.0 246.2,387.3 246.8,388.3 247.5,389.3 248.1,389.8 249.2,390.0 249.6,390.9 250.4,391.7 251.1,391.9 251.9,392.3 252.9,392.4 254.0,393.3 254.3,393.5 255.4,394.4 256.2,393.9 257.4,394.1 258.2,394.4 259.0,394.6 260.0,394.6 261.0,394.4 262.0,394.6 263.1,394.7 264.0,394.7 264.9,394.3 265.6,394.9 266.5,394.3 267.4,393.9 268.5,394.2 269.2,394.8 270.2,394.4 271.5,394.9 272.4,394.6 273.0,394.3 274.2,394.3 275.1,394.1 275.9,394.9 276.8,393.9 277.6,394.1 278.7,394.2 279.5,394.3 280.7,394.4 281.2,394.0 282.2,394.6 283.1,394.3 284.4,394.5 285.3,394.3 286.1,394.0 287.0,394.4" fill="none" stroke="#4a4a4a" stroke-width="2.4" stroke-linejoin="round"/>
</svg>
<rect x="190.9" y="314.7" width="97.49999999999997" height="80.40000000000003" fill="none" stroke="#1a1a1a" stroke-width="1.4"/>
<text transform="translate(254.35,333.4) scale(1,1.08)" font-size="13" fill="#000">M 37</text>
<text transform="translate(254.55,348.7) scale(1,1.08)" font-size="13" fill="#000">57%</text>
<svg x="190.9" y="403.8" width="97.49999999999997" height="80.59999999999997" viewBox="190.9 403.8 97.49999999999997 80.59999999999997" overflow="hidden">
<polygon points="195.2,484.4 195.2,484.0 195.3,482.8 195.3,482.5 195.6,481.4 195.7,480.2 195.9,479.5 196.1,478.7 196.2,477.5 196.0,476.4 196.4,475.5 196.5,475.0 196.3,474.2 196.4,473.4 196.9,471.9 196.9,471.2 197.1,470.5 196.9,469.5 197.0,468.8 197.3,467.9 197.1,466.4 197.4,465.8 197.3,465.1 197.7,463.6 197.5,463.1 197.7,462.1 197.8,461.0 197.7,459.8 198.0,459.4 198.0,458.5 198.2,457.7 198.3,456.3 198.1,455.1 198.2,454.9 198.6,453.9 198.4,452.9 198.5,452.2 198.8,451.1 198.8,450.0 198.9,449.0 199.1,448.6 198.9,447.2 199.2,446.5 199.1,445.3 199.4,444.2 199.2,443.7 199.3,443.0 199.4,442.0 199.4,441.1 199.7,440.0 199.5,438.6 199.5,437.7 199.9,436.6 199.7,436.2 199.8,435.0 199.9,434.4 199.9,433.8 200.2,432.6 200.2,431.5 200.5,430.9 200.5,429.2 200.5,429.1 200.6,427.8 200.6,426.6 200.7,426.2 200.7,425.0 200.6,424.1 201.0,423.1 201.1,422.7 201.4,421.2 201.1,420.8 201.5,419.9 201.7,418.5 201.7,417.6 201.9,417.1 201.8,416.0 202.0,414.9 202.0,414.2 202.0,413.3 202.5,412.7 202.3,411.8 202.7,410.8 202.7,409.7 202.9,409.0 203.5,408.2 204.0,406.9 204.4,406.4 204.8,405.5 205.4,404.3 205.9,404.9 206.4,406.1 206.6,407.3 207.2,407.5 207.9,409.0 208.2,409.7 208.3,410.3 208.4,411.6 208.6,412.4 208.7,413.5 208.6,413.9 208.9,415.3 209.1,416.3 209.1,417.1 209.0,417.7 209.1,419.0 209.7,419.8 209.7,420.4 209.8,421.0 209.7,422.2 210.0,422.9 209.8,423.7 210.1,425.0 210.4,425.7 210.5,426.7 210.6,427.5 210.7,429.1 210.8,429.8 210.9,430.9 211.0,431.2 211.1,432.6 211.0,432.9 211.3,434.1 211.3,435.4 211.4,435.8 211.6,436.9 211.5,438.0 211.9,438.5 211.9,439.9 211.9,440.3 212.1,441.3 212.1,442.4 212.2,443.6 212.3,443.8 212.7,445.6 212.7,445.9 212.9,447.2 212.9,448.0 213.1,449.1 213.4,450.0 213.6,450.7 213.5,451.2 213.8,452.2 213.9,453.2 214.1,454.2 214.6,455.4 214.6,456.4 214.8,457.0 214.9,457.8 215.1,458.3 215.6,459.9 215.8,460.6 216.1,461.7 216.4,462.4 216.3,463.4 216.8,463.9 217.0,464.6 217.1,465.8 217.6,466.2 217.8,467.4 218.4,468.6 218.8,469.1 219.0,469.9 219.5,471.2 220.2,472.0 220.4,472.5 220.9,473.1 221.1,474.6 221.7,475.0 222.4,475.4 223.3,475.7 224.2,476.4 225.1,476.9 225.9,477.6 226.7,478.6 227.4,478.9 228.6,478.9 229.5,479.1 230.2,479.2 231.2,479.6 232.2,480.6 233.2,480.6 233.9,481.2 234.9,481.4 235.8,481.1 236.9,481.5 238.0,482.0 238.6,482.0 239.6,482.0 240.4,482.1 241.4,482.7 242.2,483.0 243.1,483.1 244.2,483.2 244.8,483.7 245.9,484.0 245.9,484.4" fill="#c9c9c9"/>
<polyline points="191.8,477.0 192.3,477.4 193.0,478.5 193.4,479.3 193.8,480.8 194.6,480.6 195.9,480.8 196.7,479.9 197.7,479.9 198.1,479.3 198.8,477.9 199.3,477.3 199.5,476.9 200.0,475.9 200.6,475.0 200.8,473.9 201.1,473.7 201.7,472.7 202.0,471.7 202.2,470.9 202.5,469.5 202.7,468.9 203.2,468.6 203.5,467.4 203.8,466.4 204.0,465.8 204.5,464.9 204.6,464.3 204.8,462.9 205.1,462.0 205.7,461.6 205.9,460.4 206.3,459.7 206.9,459.1 207.2,458.4 208.0,457.3 208.6,456.2 209.2,455.8 209.6,454.4 210.0,454.4 210.3,452.8 210.7,452.4 211.0,451.1 211.2,450.0 211.9,448.9 212.7,448.2 213.2,449.0 213.0,450.3 213.2,451.5 213.6,451.6 213.9,453.1 214.0,453.9 214.4,454.6 215.5,454.7 216.0,455.8 216.9,456.9 217.2,457.7 217.9,457.8 218.5,458.2 218.3,459.8 218.7,460.7 219.0,461.4 219.3,462.3 219.8,463.5 220.2,462.2 220.5,462.0 221.2,461.2 221.7,459.7 222.3,459.1 222.8,457.8 223.7,457.1 223.8,456.6 224.6,455.8 225.3,454.8 225.5,453.7 226.3,453.9 226.6,452.7 226.8,452.2 227.5,451.0 228.2,450.5 228.8,449.2 229.6,448.5 230.4,448.2 231.4,447.6 232.3,447.2 232.7,448.4 233.8,449.3 234.2,450.0 234.7,451.2 235.5,451.2 236.1,452.0 236.5,453.5 237.1,453.9 237.6,454.9 237.5,455.8 237.8,457.3 238.5,458.3 238.6,458.8 239.0,459.7 239.0,460.1 239.3,461.2 239.8,462.6 240.0,463.3 240.0,464.4 240.3,465.1 240.9,466.3 241.0,467.4 241.5,467.9 241.7,469.3 242.0,469.9 242.4,471.7 242.9,472.1 243.1,473.5 243.6,473.6 243.8,475.0 244.3,475.9 245.3,476.4 245.6,476.9 246.6,477.7 247.0,477.9 247.7,478.9 248.5,479.6 249.8,479.6 250.5,479.7 251.7,479.6 252.5,480.1 253.5,480.8 254.3,480.9 255.3,481.7 256.0,482.4 257.4,482.5 257.9,482.6 258.9,483.0 260.0,483.7 261.1,484.2 262.0,483.5 262.9,483.3 263.6,483.3 264.5,484.1 265.2,483.9 266.4,483.6 267.3,483.5 268.3,484.2 269.0,483.8 269.9,483.6 270.8,483.2 271.6,483.8 272.5,483.6 273.6,483.4 274.6,483.2 275.3,483.7 276.5,483.4 277.2,483.6 277.9,483.8 279.2,483.9 279.9,483.3 280.9,484.1 281.8,483.6 282.7,484.1 283.6,483.3 284.5,484.0 285.3,483.5 286.0,483.2 287.0,483.7" fill="none" stroke="#4a4a4a" stroke-width="2.4" stroke-linejoin="round"/>
</svg>
<rect x="190.9" y="403.8" width="97.49999999999997" height="80.59999999999997" fill="none" stroke="#1a1a1a" stroke-width="1.4"/>
<text transform="translate(254.35,420.9) scale(1,1.08)" font-size="13" fill="#000">M 33</text>
<text transform="translate(254.55,436.6) scale(1,1.08)" font-size="13" fill="#000">51%</text>
<line x1="85.60" y1="484.8" x2="85.60" y2="489.8" stroke="#000" stroke-width="1.35"/>
<line x1="92.93" y1="484.8" x2="92.93" y2="487.40000000000003" stroke="#000" stroke-width="1.35"/>
<line x1="97.22" y1="484.8" x2="97.22" y2="487.40000000000003" stroke="#000" stroke-width="1.35"/>
<line x1="100.26" y1="484.8" x2="100.26" y2="487.40000000000003" stroke="#000" stroke-width="1.35"/>
<line x1="102.62" y1="484.8" x2="102.62" y2="487.40000000000003" stroke="#000" stroke-width="1.35"/>
<line x1="104.55" y1="484.8" x2="104.55" y2="487.40000000000003" stroke="#000" stroke-width="1.35"/>
<line x1="106.18" y1="484.8" x2="106.18" y2="487.40000000000003" stroke="#000" stroke-width="1.35"/>
<line x1="107.59" y1="484.8" x2="107.59" y2="487.40000000000003" stroke="#000" stroke-width="1.35"/>
<line x1="108.84" y1="484.8" x2="108.84" y2="487.40000000000003" stroke="#000" stroke-width="1.35"/>
<line x1="109.95" y1="484.8" x2="109.95" y2="489.8" stroke="#000" stroke-width="1.35"/>
<line x1="117.28" y1="484.8" x2="117.28" y2="487.40000000000003" stroke="#000" stroke-width="1.35"/>
<line x1="121.57" y1="484.8" x2="121.57" y2="487.40000000000003" stroke="#000" stroke-width="1.35"/>
<line x1="124.61" y1="484.8" x2="124.61" y2="487.40000000000003" stroke="#000" stroke-width="1.35"/>
<line x1="126.97" y1="484.8" x2="126.97" y2="487.40000000000003" stroke="#000" stroke-width="1.35"/>
<line x1="128.90" y1="484.8" x2="128.90" y2="487.40000000000003" stroke="#000" stroke-width="1.35"/>
<line x1="130.53" y1="484.8" x2="130.53" y2="487.40000000000003" stroke="#000" stroke-width="1.35"/>
<line x1="131.94" y1="484.8" x2="131.94" y2="487.40000000000003" stroke="#000" stroke-width="1.35"/>
<line x1="133.19" y1="484.8" x2="133.19" y2="487.40000000000003" stroke="#000" stroke-width="1.35"/>
<line x1="134.30" y1="484.8" x2="134.30" y2="489.8" stroke="#000" stroke-width="1.35"/>
<line x1="141.63" y1="484.8" x2="141.63" y2="487.40000000000003" stroke="#000" stroke-width="1.35"/>
<line x1="145.92" y1="484.8" x2="145.92" y2="487.40000000000003" stroke="#000" stroke-width="1.35"/>
<line x1="148.96" y1="484.8" x2="148.96" y2="487.40000000000003" stroke="#000" stroke-width="1.35"/>
<line x1="151.32" y1="484.8" x2="151.32" y2="487.40000000000003" stroke="#000" stroke-width="1.35"/>
<line x1="153.25" y1="484.8" x2="153.25" y2="487.40000000000003" stroke="#000" stroke-width="1.35"/>
<line x1="154.88" y1="484.8" x2="154.88" y2="487.40000000000003" stroke="#000" stroke-width="1.35"/>
<line x1="156.29" y1="484.8" x2="156.29" y2="487.40000000000003" stroke="#000" stroke-width="1.35"/>
<line x1="157.54" y1="484.8" x2="157.54" y2="487.40000000000003" stroke="#000" stroke-width="1.35"/>
<line x1="158.65" y1="484.8" x2="158.65" y2="489.8" stroke="#000" stroke-width="1.35"/>
<line x1="165.98" y1="484.8" x2="165.98" y2="487.40000000000003" stroke="#000" stroke-width="1.35"/>
<line x1="170.27" y1="484.8" x2="170.27" y2="487.40000000000003" stroke="#000" stroke-width="1.35"/>
<line x1="173.31" y1="484.8" x2="173.31" y2="487.40000000000003" stroke="#000" stroke-width="1.35"/>
<line x1="175.67" y1="484.8" x2="175.67" y2="487.40000000000003" stroke="#000" stroke-width="1.35"/>
<line x1="177.60" y1="484.8" x2="177.60" y2="487.40000000000003" stroke="#000" stroke-width="1.35"/>
<line x1="179.23" y1="484.8" x2="179.23" y2="487.40000000000003" stroke="#000" stroke-width="1.35"/>
<line x1="180.64" y1="484.8" x2="180.64" y2="487.40000000000003" stroke="#000" stroke-width="1.35"/>
<line x1="181.89" y1="484.8" x2="181.89" y2="487.40000000000003" stroke="#000" stroke-width="1.35"/>
<line x1="183.00" y1="484.8" x2="183.00" y2="489.8" stroke="#000" stroke-width="1.1"/>
<text x="84.8" y="494.3" font-size="5.4" font-weight="bold" text-anchor="middle" fill="#000">10</text>
<text x="87.6" y="490.6" font-size="4.6" font-weight="bold" fill="#000">0</text>
<text x="109.1" y="494.3" font-size="5.4" font-weight="bold" text-anchor="middle" fill="#000">10</text>
<text x="111.9" y="490.6" font-size="4.6" font-weight="bold" fill="#000">1</text>
<text x="133.5" y="494.3" font-size="5.4" font-weight="bold" text-anchor="middle" fill="#000">10</text>
<text x="136.3" y="490.6" font-size="4.6" font-weight="bold" fill="#000">2</text>
<text x="157.8" y="494.3" font-size="5.4" font-weight="bold" text-anchor="middle" fill="#000">10</text>
<text x="160.7" y="490.6" font-size="4.6" font-weight="bold" fill="#000">3</text>
<text x="182.2" y="494.3" font-size="5.4" font-weight="bold" text-anchor="middle" fill="#000">10</text>
<text x="185.0" y="490.6" font-size="4.6" font-weight="bold" fill="#000">4</text>
<line x1="190.90" y1="484.8" x2="190.90" y2="489.8" stroke="#000" stroke-width="1.35"/>
<line x1="198.24" y1="484.8" x2="198.24" y2="487.40000000000003" stroke="#000" stroke-width="1.35"/>
<line x1="202.53" y1="484.8" x2="202.53" y2="487.40000000000003" stroke="#000" stroke-width="1.35"/>
<line x1="205.58" y1="484.8" x2="205.58" y2="487.40000000000003" stroke="#000" stroke-width="1.35"/>
<line x1="207.94" y1="484.8" x2="207.94" y2="487.40000000000003" stroke="#000" stroke-width="1.35"/>
<line x1="209.87" y1="484.8" x2="209.87" y2="487.40000000000003" stroke="#000" stroke-width="1.35"/>
<line x1="211.50" y1="484.8" x2="211.50" y2="487.40000000000003" stroke="#000" stroke-width="1.35"/>
<line x1="212.91" y1="484.8" x2="212.91" y2="487.40000000000003" stroke="#000" stroke-width="1.35"/>
<line x1="214.16" y1="484.8" x2="214.16" y2="487.40000000000003" stroke="#000" stroke-width="1.35"/>
<line x1="215.28" y1="484.8" x2="215.28" y2="489.8" stroke="#000" stroke-width="1.35"/>
<line x1="222.61" y1="484.8" x2="222.61" y2="487.40000000000003" stroke="#000" stroke-width="1.35"/>
<line x1="226.90" y1="484.8" x2="226.90" y2="487.40000000000003" stroke="#000" stroke-width="1.35"/>
<line x1="229.95" y1="484.8" x2="229.95" y2="487.40000000000003" stroke="#000" stroke-width="1.35"/>
<line x1="232.31" y1="484.8" x2="232.31" y2="487.40000000000003" stroke="#000" stroke-width="1.35"/>
<line x1="234.24" y1="484.8" x2="234.24" y2="487.40000000000003" stroke="#000" stroke-width="1.35"/>
<line x1="235.87" y1="484.8" x2="235.87" y2="487.40000000000003" stroke="#000" stroke-width="1.35"/>
<line x1="237.29" y1="484.8" x2="237.29" y2="487.40000000000003" stroke="#000" stroke-width="1.35"/>
<line x1="238.53" y1="484.8" x2="238.53" y2="487.40000000000003" stroke="#000" stroke-width="1.35"/>
<line x1="239.65" y1="484.8" x2="239.65" y2="489.8" stroke="#000" stroke-width="1.35"/>
<line x1="246.99" y1="484.8" x2="246.99" y2="487.40000000000003" stroke="#000" stroke-width="1.35"/>
<line x1="251.28" y1="484.8" x2="251.28" y2="487.40000000000003" stroke="#000" stroke-width="1.35"/>
<line x1="254.33" y1="484.8" x2="254.33" y2="487.40000000000003" stroke="#000" stroke-width="1.35"/>
<line x1="256.69" y1="484.8" x2="256.69" y2="487.40000000000003" stroke="#000" stroke-width="1.35"/>
<line x1="258.62" y1="484.8" x2="258.62" y2="487.40000000000003" stroke="#000" stroke-width="1.35"/>
<line x1="260.25" y1="484.8" x2="260.25" y2="487.40000000000003" stroke="#000" stroke-width="1.35"/>
<line x1="261.66" y1="484.8" x2="261.66" y2="487.40000000000003" stroke="#000" stroke-width="1.35"/>
<line x1="262.91" y1="484.8" x2="262.91" y2="487.40000000000003" stroke="#000" stroke-width="1.35"/>
<line x1="264.02" y1="484.8" x2="264.02" y2="489.8" stroke="#000" stroke-width="1.35"/>
<line x1="271.36" y1="484.8" x2="271.36" y2="487.40000000000003" stroke="#000" stroke-width="1.35"/>
<line x1="275.65" y1="484.8" x2="275.65" y2="487.40000000000003" stroke="#000" stroke-width="1.35"/>
<line x1="278.70" y1="484.8" x2="278.70" y2="487.40000000000003" stroke="#000" stroke-width="1.35"/>
<line x1="281.06" y1="484.8" x2="281.06" y2="487.40000000000003" stroke="#000" stroke-width="1.35"/>
<line x1="282.99" y1="484.8" x2="282.99" y2="487.40000000000003" stroke="#000" stroke-width="1.35"/>
<line x1="284.62" y1="484.8" x2="284.62" y2="487.40000000000003" stroke="#000" stroke-width="1.35"/>
<line x1="286.04" y1="484.8" x2="286.04" y2="487.40000000000003" stroke="#000" stroke-width="1.35"/>
<line x1="287.28" y1="484.8" x2="287.28" y2="487.40000000000003" stroke="#000" stroke-width="1.35"/>
<line x1="288.40" y1="484.8" x2="288.40" y2="489.8" stroke="#000" stroke-width="1.1"/>
<text x="190.1" y="494.3" font-size="5.4" font-weight="bold" text-anchor="middle" fill="#000">10</text>
<text x="192.9" y="490.6" font-size="4.6" font-weight="bold" fill="#000">0</text>
<text x="214.5" y="494.3" font-size="5.4" font-weight="bold" text-anchor="middle" fill="#000">10</text>
<text x="217.3" y="490.6" font-size="4.6" font-weight="bold" fill="#000">1</text>
<text x="238.8" y="494.3" font-size="5.4" font-weight="bold" text-anchor="middle" fill="#000">10</text>
<text x="241.6" y="490.6" font-size="4.6" font-weight="bold" fill="#000">2</text>
<text x="263.2" y="494.3" font-size="5.4" font-weight="bold" text-anchor="middle" fill="#000">10</text>
<text x="266.0" y="490.6" font-size="4.6" font-weight="bold" fill="#000">3</text>
<text x="287.6" y="494.3" font-size="5.4" font-weight="bold" text-anchor="middle" fill="#000">10</text>
<text x="290.4" y="490.6" font-size="4.6" font-weight="bold" fill="#000">4</text>
<line x1="87.8" y1="499.3" x2="174" y2="499.3" stroke="#000" stroke-width="2"/>
<polygon points="180,499.3 171.5,495.7 171.5,502.90000000000003" fill="#000"/>
<line x1="192.5" y1="499.1" x2="280.5" y2="499.1" stroke="#000" stroke-width="2"/>
<polygon points="286.5,499.1 278.0,495.5 278.0,502.70000000000005" fill="#000"/>
<text x="135.4" y="516.2" font-size="15" text-anchor="middle" font-weight="normal" fill="#000" >CXCR4</text>
<text x="235.6" y="516.2" font-size="15" text-anchor="middle" font-weight="normal" fill="#000" >CCR7</text>
<text x="294.2" y="19.7" font-size="25" text-anchor="start" font-weight="bold" fill="#000" >B</text>
<line x1="340.8" y1="47.3" x2="340.8" y2="254.5" stroke="#000" stroke-width="1.3"/>
<line x1="337.0" y1="47.30000000000001" x2="340.8" y2="47.30000000000001" stroke="#000" stroke-width="1.2"/>
<text x="332.3" y="51.70000000000001" font-size="12.5" text-anchor="end" font-weight="normal" fill="#000" >30</text>
<line x1="337.0" y1="115.53333333333333" x2="340.8" y2="115.53333333333333" stroke="#000" stroke-width="1.2"/>
<text x="332.3" y="119.93333333333334" font-size="12.5" text-anchor="end" font-weight="normal" fill="#000" >20</text>
<line x1="337.0" y1="183.76666666666665" x2="340.8" y2="183.76666666666665" stroke="#000" stroke-width="1.2"/>
<text x="332.3" y="188.16666666666666" font-size="12.5" text-anchor="end" font-weight="normal" fill="#000" >10</text>
<line x1="337.0" y1="252.0" x2="340.8" y2="252.0" stroke="#000" stroke-width="1.2"/>
<text x="332.3" y="256.4" font-size="12.5" text-anchor="end" font-weight="normal" fill="#000" >0</text>
<rect x="318" y="253.6" width="18.6" height="8" fill="#fff"/>
<line x1="337.0" y1="252.0" x2="515.4" y2="252.0" stroke="#000" stroke-width="1.3"/>
<line x1="384.3" y1="252.0" x2="384.3" y2="255.5" stroke="#000" stroke-width="1.2"/>
<line x1="428.2" y1="252.0" x2="428.2" y2="255.5" stroke="#000" stroke-width="1.2"/>
<line x1="471.8" y1="252.0" x2="471.8" y2="255.5" stroke="#000" stroke-width="1.2"/>
<line x1="515.4" y1="252.0" x2="515.4" y2="255.5" stroke="#000" stroke-width="1.2"/>
<text x="352.0" y="63.4" font-size="17.6" text-anchor="start" font-weight="normal" fill="#000" >CXCL12</text>
<polyline points="362.6,164.4 406.2,147.0 449.9,103.6 493.5,107.3" fill="none" stroke="#000" stroke-width="1.4"/>
<line x1="362.6" y1="155.7" x2="362.6" y2="172.8" stroke="#000" stroke-width="1.3"/>
<line x1="359.3" y1="155.7" x2="365.90000000000003" y2="155.7" stroke="#000" stroke-width="1.3"/>
<line x1="359.3" y1="172.8" x2="365.90000000000003" y2="172.8" stroke="#000" stroke-width="1.3"/>
<polygon points="362.6,158.35 357.6,169.35 367.6,169.35" fill="#000"/>
<line x1="406.2" y1="135.6" x2="406.2" y2="157.1" stroke="#000" stroke-width="1.3"/>
<line x1="402.9" y1="135.6" x2="409.5" y2="135.6" stroke="#000" stroke-width="1.3"/>
<line x1="402.9" y1="157.1" x2="409.5" y2="157.1" stroke="#000" stroke-width="1.3"/>
<polygon points="406.2,140.95 401.2,151.95 411.2,151.95" fill="#000"/>
<line x1="449.9" y1="86.3" x2="449.9" y2="118.9" stroke="#000" stroke-width="1.3"/>
<line x1="446.59999999999997" y1="86.3" x2="453.2" y2="86.3" stroke="#000" stroke-width="1.3"/>
<line x1="446.59999999999997" y1="118.9" x2="453.2" y2="118.9" stroke="#000" stroke-width="1.3"/>
<polygon points="449.9,97.55 444.9,108.55 454.9,108.55" fill="#000"/>
<polygon points="493.5,101.25 488.5,112.25 498.5,112.25" fill="#000"/>
<polyline points="362.6,249.6 406.2,245.1 449.9,247.1 493.5,248.2" fill="none" stroke="#000" stroke-width="1.4"/>
<circle cx="362.6" cy="249.6" r="4.85" fill="#000"/>
<circle cx="406.2" cy="245.1" r="4.85" fill="#000"/>
<circle cx="449.9" cy="247.1" r="4.85" fill="#000"/>
<circle cx="493.5" cy="248.2" r="4.85" fill="#000"/>
<rect x="456.3" y="46.5" width="57.9" height="31.4" fill="#fff" stroke="#000" stroke-width="1.3"/>
<line x1="463" y1="55.2" x2="487" y2="55.2" stroke="#000" stroke-width="1.2"/>
<circle cx="475.2" cy="55.2" r="3.4" fill="#000"/>
<line x1="463" y1="67.4" x2="487" y2="67.4" stroke="#000" stroke-width="1.2"/>
<polygon points="475.2,62.47 471.2,71.07000000000001 479.2,71.07000000000001" fill="#000"/>
<text x="489.3" y="58.8" font-size="10.3" text-anchor="start" font-weight="normal" fill="#000" >C</text>
<text x="489.3" y="70.9" font-size="10.3" text-anchor="start" font-weight="normal" fill="#000" >LPS</text>
<line x1="444.8" y1="159.7" x2="444.8" y2="221.5" stroke="#000" stroke-width="1.2"/>
<line x1="442.0" y1="218.9" x2="444.8" y2="218.9" stroke="#000" stroke-width="1.1"/>
<text x="438.4" y="221.6" font-size="9.6" text-anchor="end" font-weight="normal" fill="#000" letter-spacing="-0.3">0</text>
<line x1="442.0" y1="202.03333333333333" x2="444.8" y2="202.03333333333333" stroke="#000" stroke-width="1.1"/>
<text x="438.4" y="204.73333333333332" font-size="9.6" text-anchor="end" font-weight="normal" fill="#000" letter-spacing="-0.3">20</text>
<line x1="442.0" y1="185.16666666666669" x2="444.8" y2="185.16666666666669" stroke="#000" stroke-width="1.1"/>
<text x="438.4" y="187.86666666666667" font-size="9.6" text-anchor="end" font-weight="normal" fill="#000" letter-spacing="-0.3">40</text>
<line x1="442.0" y1="168.3" x2="444.8" y2="168.3" stroke="#000" stroke-width="1.1"/>
<text x="438.4" y="171.0" font-size="9.6" text-anchor="end" font-weight="normal" fill="#000" letter-spacing="-0.3">60</text>
<line x1="444.8" y1="218.9" x2="515.2" y2="218.9" stroke="#000" stroke-width="1.2"/>
<line x1="462.4" y1="218.9" x2="462.4" y2="221.6" stroke="#000" stroke-width="1.1"/>
<line x1="480.0" y1="218.9" x2="480.0" y2="221.6" stroke="#000" stroke-width="1.1"/>
<line x1="497.7" y1="218.9" x2="497.7" y2="221.6" stroke="#000" stroke-width="1.1"/>
<line x1="515.2" y1="218.9" x2="515.2" y2="221.6" stroke="#000" stroke-width="1.1"/>
<text x="454.4" y="232.2" font-size="9.6" text-anchor="middle" font-weight="normal" fill="#000" letter-spacing="-0.7">0</text>
<text x="471.9" y="232.2" font-size="9.6" text-anchor="middle" font-weight="normal" fill="#000" letter-spacing="-0.7">25</text>
<text x="488.7" y="232.2" font-size="9.6" text-anchor="middle" font-weight="normal" fill="#000" letter-spacing="-0.7">50</text>
<text x="507.9" y="232.2" font-size="9.6" text-anchor="middle" font-weight="normal" fill="#000" letter-spacing="-0.7">100</text>
<polyline points="454.1,206.6 470.9,195.6 488.6,191.6 506.3,188.0" fill="none" stroke="#000" stroke-width="1.4"/>
<rect x="450.3" y="202.79999999999998" width="7.6" height="7.6" fill="#000"/>
<rect x="467.09999999999997" y="191.79999999999998" width="7.6" height="7.6" fill="#000"/>
<rect x="484.8" y="187.79999999999998" width="7.6" height="7.6" fill="#000"/>
<rect x="502.5" y="184.2" width="7.6" height="7.6" fill="#000"/>
<line x1="452.5" y1="164.4" x2="478" y2="164.4" stroke="#000" stroke-width="1.2"/>
<rect x="461.4" y="160.6" width="7.6" height="7.6" fill="#000"/>
<text x="479.2" y="167.9" font-size="9.4" text-anchor="start" font-weight="normal" fill="#000" >CXCR4</text>
<text transform="translate(419.8,209.5) rotate(-90)" font-size="11.5" fill="#000">% cells</text>
<line x1="341.0" y1="266.6" x2="341.0" y2="480.2" stroke="#000" stroke-width="1.3"/>
<line x1="337.2" y1="266.6" x2="341.0" y2="266.6" stroke="#000" stroke-width="1.2"/>
<text x="332.5" y="271.0" font-size="12.5" text-anchor="end" font-weight="normal" fill="#000" >15</text>
<line x1="337.2" y1="336.33333333333337" x2="341.0" y2="336.33333333333337" stroke="#000" stroke-width="1.2"/>
<text x="332.5" y="340.73333333333335" font-size="12.5" text-anchor="end" font-weight="normal" fill="#000" >10</text>
<line x1="337.2" y1="406.06666666666666" x2="341.0" y2="406.06666666666666" stroke="#000" stroke-width="1.2"/>
<text x="332.5" y="410.46666666666664" font-size="12.5" text-anchor="end" font-weight="normal" fill="#000" >5</text>
<line x1="337.2" y1="475.8" x2="341.0" y2="475.8" stroke="#000" stroke-width="1.2"/>
<text x="332.5" y="480.2" font-size="12.5" text-anchor="end" font-weight="normal" fill="#000" >0</text>
<line x1="337.2" y1="475.8" x2="515.4" y2="475.8" stroke="#000" stroke-width="1.3"/>
<line x1="385.8" y1="475.8" x2="385.8" y2="479.40000000000003" stroke="#000" stroke-width="1.2"/>
<line x1="428.9" y1="475.8" x2="428.9" y2="479.40000000000003" stroke="#000" stroke-width="1.2"/>
<line x1="472.2" y1="475.8" x2="472.2" y2="479.40000000000003" stroke="#000" stroke-width="1.2"/>
<line x1="515.4" y1="475.8" x2="515.4" y2="479.40000000000003" stroke="#000" stroke-width="1.2"/>
<text x="354.6" y="282.0" font-size="17" text-anchor="start" font-weight="normal" fill="#000" >CCL19</text>
<rect x="363.7" y="473.2" width="130.0" height="2.6" fill="#8a8a8a"/>
<line x1="363.7" y1="473.1" x2="493.7" y2="473.1" stroke="#222" stroke-width="1.1"/>
<polyline points="363.7,462.0 407.2,367.3 450.2,300.0 493.7,301.0" fill="none" stroke="#000" stroke-width="1.4"/>
<polygon points="363.7,455.95 358.7,466.95 368.7,466.95" fill="#000"/>
<line x1="407.2" y1="359.5" x2="407.2" y2="375.1" stroke="#000" stroke-width="1.3"/>
<line x1="403.9" y1="359.5" x2="410.5" y2="359.5" stroke="#000" stroke-width="1.3"/>
<line x1="403.9" y1="375.1" x2="410.5" y2="375.1" stroke="#000" stroke-width="1.3"/>
<polygon points="407.2,361.25 402.2,372.25 412.2,372.25" fill="#000"/>
<line x1="450.2" y1="288.8" x2="450.2" y2="309.8" stroke="#000" stroke-width="1.3"/>
<line x1="446.9" y1="288.8" x2="453.5" y2="288.8" stroke="#000" stroke-width="1.3"/>
<line x1="446.9" y1="309.8" x2="453.5" y2="309.8" stroke="#000" stroke-width="1.3"/>
<polygon points="450.2,293.95 445.2,304.95 455.2,304.95" fill="#000"/>
<line x1="493.7" y1="278.3" x2="493.7" y2="323.8" stroke="#000" stroke-width="1.3"/>
<line x1="490.4" y1="278.3" x2="497.0" y2="278.3" stroke="#000" stroke-width="1.3"/>
<line x1="490.4" y1="323.8" x2="497.0" y2="323.8" stroke="#000" stroke-width="1.3"/>
<polygon points="493.7,294.95 488.7,305.95 498.7,305.95" fill="#000"/>
<circle cx="363.7" cy="473.8" r="4.85" fill="#000"/>
<circle cx="407.2" cy="473.8" r="4.85" fill="#000"/>
<circle cx="450.2" cy="473.8" r="4.85" fill="#000"/>
<circle cx="493.7" cy="473.8" r="4.85" fill="#000"/>
<line x1="441.4" y1="382.8" x2="441.4" y2="445.7" stroke="#000" stroke-width="1.2"/>
<line x1="438.59999999999997" y1="442.7" x2="441.4" y2="442.7" stroke="#000" stroke-width="1.1"/>
<text x="434.6" y="445.4" font-size="9.6" text-anchor="end" font-weight="normal" fill="#000" letter-spacing="-0.3">0</text>
<line x1="438.59999999999997" y1="425.6333333333333" x2="441.4" y2="425.6333333333333" stroke="#000" stroke-width="1.1"/>
<text x="434.6" y="428.3333333333333" font-size="9.6" text-anchor="end" font-weight="normal" fill="#000" letter-spacing="-0.3">20</text>
<line x1="438.59999999999997" y1="408.56666666666666" x2="441.4" y2="408.56666666666666" stroke="#000" stroke-width="1.1"/>
<text x="434.6" y="411.26666666666665" font-size="9.6" text-anchor="end" font-weight="normal" fill="#000" letter-spacing="-0.3">40</text>
<line x1="438.59999999999997" y1="391.5" x2="441.4" y2="391.5" stroke="#000" stroke-width="1.1"/>
<text x="434.6" y="394.2" font-size="9.6" text-anchor="end" font-weight="normal" fill="#000" letter-spacing="-0.3">60</text>
<line x1="441.4" y1="442.7" x2="511.9" y2="442.7" stroke="#000" stroke-width="1.2"/>
<line x1="458.8" y1="442.7" x2="458.8" y2="445.2" stroke="#000" stroke-width="1.1"/>
<line x1="477.3" y1="442.7" x2="477.3" y2="445.2" stroke="#000" stroke-width="1.1"/>
<line x1="495.0" y1="442.7" x2="495.0" y2="445.2" stroke="#000" stroke-width="1.1"/>
<line x1="511.9" y1="442.7" x2="511.9" y2="445.2" stroke="#000" stroke-width="1.1"/>
<text x="450.6" y="456.4" font-size="9.6" text-anchor="middle" font-weight="normal" fill="#000" letter-spacing="-0.7">0</text>
<text x="468.5" y="456.4" font-size="9.6" text-anchor="middle" font-weight="normal" fill="#000" letter-spacing="-0.7">25</text>
<text x="486.6" y="456.4" font-size="9.6" text-anchor="middle" font-weight="normal" fill="#000" letter-spacing="-0.7">50</text>
<text x="505.2" y="456.4" font-size="9.6" text-anchor="middle" font-weight="normal" fill="#000" letter-spacing="-0.7">100</text>
<polyline points="450.3,401.1 467.6,390.9 486.4,394.5 504.1,398.9" fill="none" stroke="#000" stroke-width="1.4"/>
<polygon points="450.3,396.8 454.3,401.1 450.3,405.40000000000003 446.3,401.1" fill="#000"/>
<polygon points="467.6,386.59999999999997 471.6,390.9 467.6,395.2 463.6,390.9" fill="#000"/>
<polygon points="486.4,390.2 490.4,394.5 486.4,398.8 482.4,394.5" fill="#000"/>
<polygon points="504.1,394.59999999999997 508.1,398.9 504.1,403.2 500.1,398.9" fill="#000"/>
<line x1="455.4" y1="433.6" x2="481.3" y2="433.6" stroke="#000" stroke-width="1.2"/>
<polygon points="468,429.3 472.0,433.6 468,437.90000000000003 464.0,433.6" fill="#000"/>
<text x="481.8" y="437.0" font-size="9.4" text-anchor="start" font-weight="normal" fill="#000" >CCR7</text>
<text transform="translate(419.6,434.1) rotate(-90)" font-size="11.3" fill="#000">% cells</text>
<text x="363.1" y="497.2" font-size="12.5" text-anchor="middle" font-weight="normal" fill="#000" >0</text>
<text x="407.7" y="497.2" font-size="12.5" text-anchor="middle" font-weight="normal" fill="#000" >25</text>
<text x="450.5" y="497.2" font-size="12.5" text-anchor="middle" font-weight="normal" fill="#000" >50</text>
<text x="494.6" y="497.2" font-size="12.5" text-anchor="middle" font-weight="normal" fill="#000" >100</text>
<text x="385.4" y="512.6" font-size="16" text-anchor="start" font-weight="normal" fill="#000" >NOR4</text>
<text x="440.3" y="512.6" font-size="16" text-anchor="start" font-weight="normal" fill="#000" >conc</text>
<text x="477.8" y="512.6" font-size="16" textLength="36.2" lengthAdjust="spacingAndGlyphs">(&#956;M)</text>
<text transform="translate(310.9,340.4) rotate(-90)" font-size="18" fill="#000">Migrated DCs (x10<tspan font-size="10.5" dy="-7.5">3</tspan><tspan dy="7.5">)</tspan></text>
</svg>
</body></html>
